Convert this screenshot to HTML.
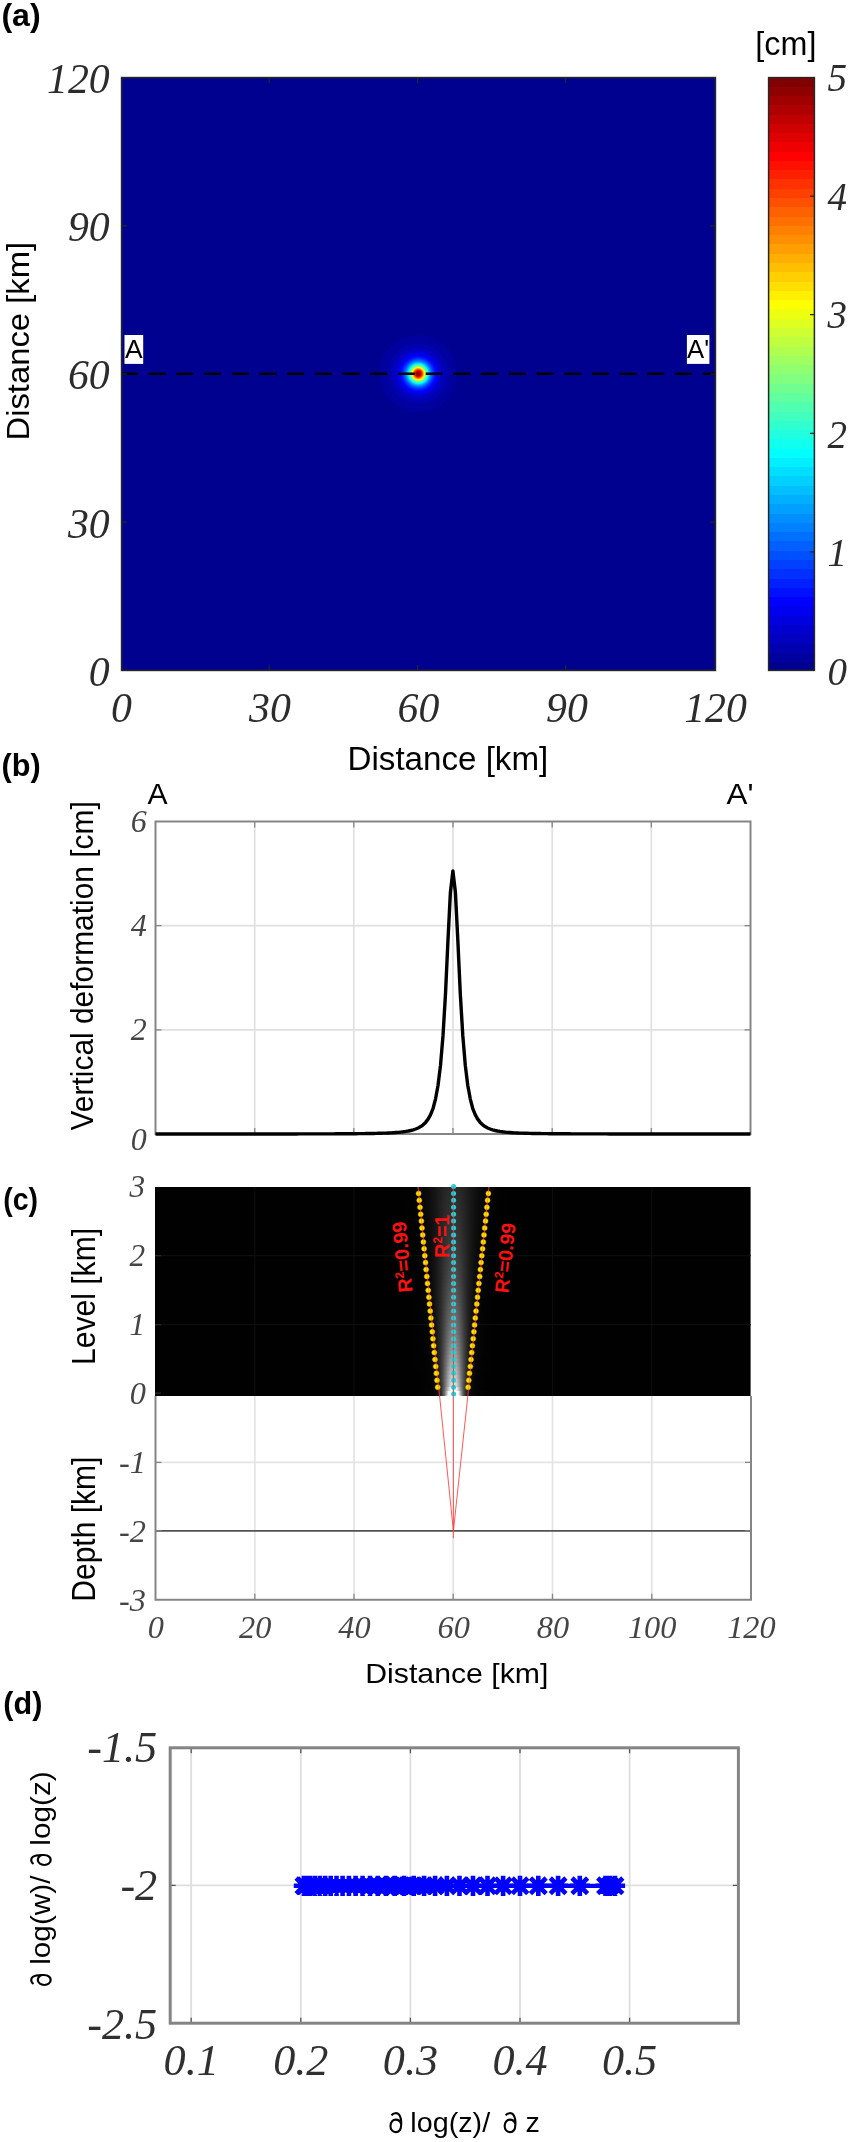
<!DOCTYPE html>
<html><head><meta charset="utf-8"><title>figure</title>
<style>html,body{margin:0;padding:0;background:#fff}svg{display:block}</style></head>
<body>
<svg width="850" height="2142" viewBox="0 0 850 2142">
<defs>
<radialGradient id="blob" gradientUnits="userSpaceOnUse" cx="418.3" cy="373.7" r="70"><stop offset="0" stop-color="#800000"/><stop offset="0.0163" stop-color="#800000"/><stop offset="0.0209" stop-color="#8f0000"/><stop offset="0.0218" stop-color="#8f0000"/><stop offset="0.0257" stop-color="#9f0000"/><stop offset="0.0263" stop-color="#9f0000"/><stop offset="0.0298" stop-color="#af0000"/><stop offset="0.0303" stop-color="#af0000"/><stop offset="0.0335" stop-color="#bf0000"/><stop offset="0.0340" stop-color="#bf0000"/><stop offset="0.0369" stop-color="#cf0000"/><stop offset="0.0373" stop-color="#cf0000"/><stop offset="0.0401" stop-color="#df0000"/><stop offset="0.0405" stop-color="#df0000"/><stop offset="0.0432" stop-color="#ef0000"/><stop offset="0.0435" stop-color="#ef0000"/><stop offset="0.0461" stop-color="#ff0000"/><stop offset="0.0464" stop-color="#ff0000"/><stop offset="0.0489" stop-color="#ff1000"/><stop offset="0.0492" stop-color="#ff1000"/><stop offset="0.0517" stop-color="#ff2000"/><stop offset="0.0520" stop-color="#ff2000"/><stop offset="0.0544" stop-color="#ff3000"/><stop offset="0.0547" stop-color="#ff3000"/><stop offset="0.0571" stop-color="#ff4000"/><stop offset="0.0573" stop-color="#ff4000"/><stop offset="0.0597" stop-color="#ff5000"/><stop offset="0.0600" stop-color="#ff5000"/><stop offset="0.0623" stop-color="#ff6000"/><stop offset="0.0625" stop-color="#ff6000"/><stop offset="0.0648" stop-color="#ff7000"/><stop offset="0.0651" stop-color="#ff7000"/><stop offset="0.0674" stop-color="#ff8000"/><stop offset="0.0677" stop-color="#ff8000"/><stop offset="0.0700" stop-color="#ff8f00"/><stop offset="0.0702" stop-color="#ff8f00"/><stop offset="0.0725" stop-color="#ff9f00"/><stop offset="0.0728" stop-color="#ff9f00"/><stop offset="0.0751" stop-color="#ffaf00"/><stop offset="0.0753" stop-color="#ffaf00"/><stop offset="0.0776" stop-color="#ffbf00"/><stop offset="0.0779" stop-color="#ffbf00"/><stop offset="0.0802" stop-color="#ffcf00"/><stop offset="0.0805" stop-color="#ffcf00"/><stop offset="0.0828" stop-color="#ffdf00"/><stop offset="0.0830" stop-color="#ffdf00"/><stop offset="0.0854" stop-color="#ffef00"/><stop offset="0.0857" stop-color="#ffef00"/><stop offset="0.0880" stop-color="#ffff00"/><stop offset="0.0883" stop-color="#ffff00"/><stop offset="0.0907" stop-color="#efff10"/><stop offset="0.0910" stop-color="#efff10"/><stop offset="0.0934" stop-color="#dfff20"/><stop offset="0.0937" stop-color="#dfff20"/><stop offset="0.0962" stop-color="#cfff30"/><stop offset="0.0965" stop-color="#cfff30"/><stop offset="0.0990" stop-color="#bfff40"/><stop offset="0.0993" stop-color="#bfff40"/><stop offset="0.1018" stop-color="#afff50"/><stop offset="0.1021" stop-color="#afff50"/><stop offset="0.1047" stop-color="#9fff60"/><stop offset="0.1050" stop-color="#9fff60"/><stop offset="0.1077" stop-color="#8fff70"/><stop offset="0.1080" stop-color="#8fff70"/><stop offset="0.1107" stop-color="#80ff80"/><stop offset="0.1111" stop-color="#80ff80"/><stop offset="0.1138" stop-color="#70ff8f"/><stop offset="0.1142" stop-color="#70ff8f"/><stop offset="0.1170" stop-color="#60ff9f"/><stop offset="0.1174" stop-color="#60ff9f"/><stop offset="0.1203" stop-color="#50ffaf"/><stop offset="0.1207" stop-color="#50ffaf"/><stop offset="0.1237" stop-color="#40ffbf"/><stop offset="0.1241" stop-color="#40ffbf"/><stop offset="0.1272" stop-color="#30ffcf"/><stop offset="0.1276" stop-color="#30ffcf"/><stop offset="0.1309" stop-color="#20ffdf"/><stop offset="0.1313" stop-color="#20ffdf"/><stop offset="0.1346" stop-color="#10ffef"/><stop offset="0.1351" stop-color="#10ffef"/><stop offset="0.1385" stop-color="#00ffff"/><stop offset="0.1390" stop-color="#00ffff"/><stop offset="0.1426" stop-color="#00efff"/><stop offset="0.1431" stop-color="#00efff"/><stop offset="0.1469" stop-color="#00dfff"/><stop offset="0.1474" stop-color="#00dfff"/><stop offset="0.1514" stop-color="#00cfff"/><stop offset="0.1519" stop-color="#00cfff"/><stop offset="0.1561" stop-color="#00bfff"/><stop offset="0.1567" stop-color="#00bfff"/><stop offset="0.1611" stop-color="#00afff"/><stop offset="0.1617" stop-color="#00afff"/><stop offset="0.1663" stop-color="#009fff"/><stop offset="0.1670" stop-color="#009fff"/><stop offset="0.1719" stop-color="#008fff"/><stop offset="0.1727" stop-color="#008fff"/><stop offset="0.1779" stop-color="#0080ff"/><stop offset="0.1788" stop-color="#0080ff"/><stop offset="0.1844" stop-color="#0070ff"/><stop offset="0.1853" stop-color="#0070ff"/><stop offset="0.1913" stop-color="#0060ff"/><stop offset="0.1923" stop-color="#0060ff"/><stop offset="0.1989" stop-color="#0050ff"/><stop offset="0.2000" stop-color="#0050ff"/><stop offset="0.2072" stop-color="#0040ff"/><stop offset="0.2085" stop-color="#0040ff"/><stop offset="0.2164" stop-color="#0030ff"/><stop offset="0.2179" stop-color="#0030ff"/><stop offset="0.2267" stop-color="#0020ff"/><stop offset="0.2284" stop-color="#0020ff"/><stop offset="0.2383" stop-color="#0010ff"/><stop offset="0.2403" stop-color="#0010ff"/><stop offset="0.2518" stop-color="#0000ff"/><stop offset="0.2542" stop-color="#0000ff"/><stop offset="0.2675" stop-color="#0000ef"/><stop offset="0.2706" stop-color="#0000ef"/><stop offset="0.2865" stop-color="#0000df"/><stop offset="0.2917" stop-color="#0000df"/><stop offset="0.3089" stop-color="#0000cf"/><stop offset="0.3198" stop-color="#0000cf"/><stop offset="0.3370" stop-color="#0000bf"/><stop offset="0.3587" stop-color="#0000bf"/><stop offset="0.3758" stop-color="#0000af"/><stop offset="0.4192" stop-color="#0000af"/><stop offset="0.4363" stop-color="#00009f"/><stop offset="0.5411" stop-color="#00009f"/><stop offset="0.5583" stop-color="#00008f"/><stop offset="1" stop-color="#00008f"/></radialGradient>
</defs>
<rect width="850" height="2142" fill="#fff"/>
<g opacity="0.999">
<rect x="121.0" y="77.0" width="595.0" height="594.0" fill="#00008f"/>
<rect x="121.0" y="77.0" width="595.0" height="594.0" fill="url(#blob)"/>
<line x1="121" y1="373.8" x2="716.0" y2="373.8" stroke="#000" stroke-width="2.4" stroke-dasharray="17 10.7"/>
<path d="M269.2 77.0v6M269.2 671.0v-6M121.0 225.8h6M716.0 225.8h-6M417.6 77.0v6M417.6 671.0v-6M121.0 374.0h6M716.0 374.0h-6M565.6 77.0v6M565.6 671.0v-6M121.0 522.2h6M716.0 522.2h-6" stroke="#262626" stroke-width="1.2" fill="none"/>
<rect x="121.6" y="77.6" width="593.8" height="592.8" fill="none" stroke="#262626" stroke-width="1.6"/>
<rect x="124.5" y="335" width="18.7" height="28.9" fill="#fff"/>
<rect x="686.9" y="335" width="22.5" height="28.9" fill="#fff"/>
<g opacity="0.999">
<text transform="translate(125.00,357.90) scale(1.0136,1)" font-family='"Liberation Sans", sans-serif' font-weight="normal" font-style="normal" font-size="26.11" fill="#000">A</text>
<text transform="translate(687.10,357.70) scale(0.9848,1)" font-family='"Liberation Sans", sans-serif' font-weight="normal" font-style="normal" font-size="26.11" fill="#000">A'</text>
</g>
<text transform="translate(1.39,25.80) scale(1.0209,1)" font-family='"Liberation Sans", sans-serif' font-weight="bold" font-style="normal" font-size="31.52" fill="#000">(a)</text>
<text x="109.70" y="92.80" text-anchor="end" font-family='"Liberation Serif", serif' font-style="italic" font-size="41.8" fill="#2c2c2c">120</text>
<text x="109.70" y="241.05" text-anchor="end" font-family='"Liberation Serif", serif' font-style="italic" font-size="41.8" fill="#2c2c2c">90</text>
<text x="109.70" y="389.30" text-anchor="end" font-family='"Liberation Serif", serif' font-style="italic" font-size="41.8" fill="#2c2c2c">60</text>
<text x="109.70" y="537.55" text-anchor="end" font-family='"Liberation Serif", serif' font-style="italic" font-size="41.8" fill="#2c2c2c">30</text>
<text x="109.70" y="685.80" text-anchor="end" font-family='"Liberation Serif", serif' font-style="italic" font-size="41.8" fill="#2c2c2c">0</text>
<text x="121.50" y="722.20" text-anchor="middle" font-family='"Liberation Serif", serif' font-style="italic" font-size="41.8" fill="#2c2c2c">0</text>
<text x="270.00" y="722.20" text-anchor="middle" font-family='"Liberation Serif", serif' font-style="italic" font-size="41.8" fill="#2c2c2c">30</text>
<text x="418.50" y="722.20" text-anchor="middle" font-family='"Liberation Serif", serif' font-style="italic" font-size="41.8" fill="#2c2c2c">60</text>
<text x="567.00" y="722.20" text-anchor="middle" font-family='"Liberation Serif", serif' font-style="italic" font-size="41.8" fill="#2c2c2c">90</text>
<text x="715.50" y="722.20" text-anchor="middle" font-family='"Liberation Serif", serif' font-style="italic" font-size="41.8" fill="#2c2c2c">120</text>
<text transform="translate(28.70,440.52) rotate(-90) scale(1.0436,1)" font-family='"Liberation Sans", sans-serif' font-weight="normal" font-style="normal" font-size="31.42" fill="#000">Distance [km]</text>
<text transform="translate(347.55,770.30) scale(0.9821,1)" font-family='"Liberation Sans", sans-serif' font-weight="normal" font-style="normal" font-size="33.76" fill="#000">Distance [km]</text>
<text transform="translate(755.34,55.30) scale(0.9602,1)" font-family='"Liberation Sans", sans-serif' font-weight="normal" font-style="normal" font-size="33.66" fill="#000">[cm]</text>
<rect x="768.0" y="661.72" width="47.0" height="9.68" fill="#00008f" shape-rendering="crispEdges"/>
<rect x="768.0" y="652.44" width="47.0" height="9.68" fill="#00009f" shape-rendering="crispEdges"/>
<rect x="768.0" y="643.16" width="47.0" height="9.68" fill="#0000af" shape-rendering="crispEdges"/>
<rect x="768.0" y="633.88" width="47.0" height="9.68" fill="#0000bf" shape-rendering="crispEdges"/>
<rect x="768.0" y="624.59" width="47.0" height="9.68" fill="#0000cf" shape-rendering="crispEdges"/>
<rect x="768.0" y="615.31" width="47.0" height="9.68" fill="#0000df" shape-rendering="crispEdges"/>
<rect x="768.0" y="606.03" width="47.0" height="9.68" fill="#0000ef" shape-rendering="crispEdges"/>
<rect x="768.0" y="596.75" width="47.0" height="9.68" fill="#0000ff" shape-rendering="crispEdges"/>
<rect x="768.0" y="587.47" width="47.0" height="9.68" fill="#0010ff" shape-rendering="crispEdges"/>
<rect x="768.0" y="578.19" width="47.0" height="9.68" fill="#0020ff" shape-rendering="crispEdges"/>
<rect x="768.0" y="568.91" width="47.0" height="9.68" fill="#0030ff" shape-rendering="crispEdges"/>
<rect x="768.0" y="559.62" width="47.0" height="9.68" fill="#0040ff" shape-rendering="crispEdges"/>
<rect x="768.0" y="550.34" width="47.0" height="9.68" fill="#0050ff" shape-rendering="crispEdges"/>
<rect x="768.0" y="541.06" width="47.0" height="9.68" fill="#0060ff" shape-rendering="crispEdges"/>
<rect x="768.0" y="531.78" width="47.0" height="9.68" fill="#0070ff" shape-rendering="crispEdges"/>
<rect x="768.0" y="522.50" width="47.0" height="9.68" fill="#0080ff" shape-rendering="crispEdges"/>
<rect x="768.0" y="513.22" width="47.0" height="9.68" fill="#008fff" shape-rendering="crispEdges"/>
<rect x="768.0" y="503.94" width="47.0" height="9.68" fill="#009fff" shape-rendering="crispEdges"/>
<rect x="768.0" y="494.66" width="47.0" height="9.68" fill="#00afff" shape-rendering="crispEdges"/>
<rect x="768.0" y="485.38" width="47.0" height="9.68" fill="#00bfff" shape-rendering="crispEdges"/>
<rect x="768.0" y="476.09" width="47.0" height="9.68" fill="#00cfff" shape-rendering="crispEdges"/>
<rect x="768.0" y="466.81" width="47.0" height="9.68" fill="#00dfff" shape-rendering="crispEdges"/>
<rect x="768.0" y="457.53" width="47.0" height="9.68" fill="#00efff" shape-rendering="crispEdges"/>
<rect x="768.0" y="448.25" width="47.0" height="9.68" fill="#00ffff" shape-rendering="crispEdges"/>
<rect x="768.0" y="438.97" width="47.0" height="9.68" fill="#10ffef" shape-rendering="crispEdges"/>
<rect x="768.0" y="429.69" width="47.0" height="9.68" fill="#20ffdf" shape-rendering="crispEdges"/>
<rect x="768.0" y="420.41" width="47.0" height="9.68" fill="#30ffcf" shape-rendering="crispEdges"/>
<rect x="768.0" y="411.12" width="47.0" height="9.68" fill="#40ffbf" shape-rendering="crispEdges"/>
<rect x="768.0" y="401.84" width="47.0" height="9.68" fill="#50ffaf" shape-rendering="crispEdges"/>
<rect x="768.0" y="392.56" width="47.0" height="9.68" fill="#60ff9f" shape-rendering="crispEdges"/>
<rect x="768.0" y="383.28" width="47.0" height="9.68" fill="#70ff8f" shape-rendering="crispEdges"/>
<rect x="768.0" y="374.00" width="47.0" height="9.68" fill="#80ff80" shape-rendering="crispEdges"/>
<rect x="768.0" y="364.72" width="47.0" height="9.68" fill="#8fff70" shape-rendering="crispEdges"/>
<rect x="768.0" y="355.44" width="47.0" height="9.68" fill="#9fff60" shape-rendering="crispEdges"/>
<rect x="768.0" y="346.16" width="47.0" height="9.68" fill="#afff50" shape-rendering="crispEdges"/>
<rect x="768.0" y="336.88" width="47.0" height="9.68" fill="#bfff40" shape-rendering="crispEdges"/>
<rect x="768.0" y="327.59" width="47.0" height="9.68" fill="#cfff30" shape-rendering="crispEdges"/>
<rect x="768.0" y="318.31" width="47.0" height="9.68" fill="#dfff20" shape-rendering="crispEdges"/>
<rect x="768.0" y="309.03" width="47.0" height="9.68" fill="#efff10" shape-rendering="crispEdges"/>
<rect x="768.0" y="299.75" width="47.0" height="9.68" fill="#ffff00" shape-rendering="crispEdges"/>
<rect x="768.0" y="290.47" width="47.0" height="9.68" fill="#ffef00" shape-rendering="crispEdges"/>
<rect x="768.0" y="281.19" width="47.0" height="9.68" fill="#ffdf00" shape-rendering="crispEdges"/>
<rect x="768.0" y="271.91" width="47.0" height="9.68" fill="#ffcf00" shape-rendering="crispEdges"/>
<rect x="768.0" y="262.62" width="47.0" height="9.68" fill="#ffbf00" shape-rendering="crispEdges"/>
<rect x="768.0" y="253.34" width="47.0" height="9.68" fill="#ffaf00" shape-rendering="crispEdges"/>
<rect x="768.0" y="244.06" width="47.0" height="9.68" fill="#ff9f00" shape-rendering="crispEdges"/>
<rect x="768.0" y="234.78" width="47.0" height="9.68" fill="#ff8f00" shape-rendering="crispEdges"/>
<rect x="768.0" y="225.50" width="47.0" height="9.68" fill="#ff8000" shape-rendering="crispEdges"/>
<rect x="768.0" y="216.22" width="47.0" height="9.68" fill="#ff7000" shape-rendering="crispEdges"/>
<rect x="768.0" y="206.94" width="47.0" height="9.68" fill="#ff6000" shape-rendering="crispEdges"/>
<rect x="768.0" y="197.66" width="47.0" height="9.68" fill="#ff5000" shape-rendering="crispEdges"/>
<rect x="768.0" y="188.38" width="47.0" height="9.68" fill="#ff4000" shape-rendering="crispEdges"/>
<rect x="768.0" y="179.09" width="47.0" height="9.68" fill="#ff3000" shape-rendering="crispEdges"/>
<rect x="768.0" y="169.81" width="47.0" height="9.68" fill="#ff2000" shape-rendering="crispEdges"/>
<rect x="768.0" y="160.53" width="47.0" height="9.68" fill="#ff1000" shape-rendering="crispEdges"/>
<rect x="768.0" y="151.25" width="47.0" height="9.68" fill="#ff0000" shape-rendering="crispEdges"/>
<rect x="768.0" y="141.97" width="47.0" height="9.68" fill="#ef0000" shape-rendering="crispEdges"/>
<rect x="768.0" y="132.69" width="47.0" height="9.68" fill="#df0000" shape-rendering="crispEdges"/>
<rect x="768.0" y="123.41" width="47.0" height="9.68" fill="#cf0000" shape-rendering="crispEdges"/>
<rect x="768.0" y="114.12" width="47.0" height="9.68" fill="#bf0000" shape-rendering="crispEdges"/>
<rect x="768.0" y="104.84" width="47.0" height="9.68" fill="#af0000" shape-rendering="crispEdges"/>
<rect x="768.0" y="95.56" width="47.0" height="9.68" fill="#9f0000" shape-rendering="crispEdges"/>
<rect x="768.0" y="86.28" width="47.0" height="9.68" fill="#8f0000" shape-rendering="crispEdges"/>
<rect x="768.0" y="77.00" width="47.0" height="9.68" fill="#800000" shape-rendering="crispEdges"/>
<path d="M815.0 196.1h-5M815.0 314.7h-5M815.0 433.3h-5M815.0 551.9h-5" stroke="#262626" stroke-width="1.2" fill="none"/>
<rect x="768.6" y="77.6" width="45.8" height="592.8" fill="none" stroke="#262626" stroke-width="1.5"/>
<text x="827.60" y="90.70" text-anchor="start" font-family='"Liberation Serif", serif' font-style="italic" font-size="39.0" fill="#2c2c2c">5</text>
<text x="827.60" y="210.40" text-anchor="start" font-family='"Liberation Serif", serif' font-style="italic" font-size="39.0" fill="#2c2c2c">4</text>
<text x="827.60" y="328.30" text-anchor="start" font-family='"Liberation Serif", serif' font-style="italic" font-size="39.0" fill="#2c2c2c">3</text>
<text x="827.60" y="448.10" text-anchor="start" font-family='"Liberation Serif", serif' font-style="italic" font-size="39.0" fill="#2c2c2c">2</text>
<text x="827.60" y="565.50" text-anchor="start" font-family='"Liberation Serif", serif' font-style="italic" font-size="39.0" fill="#2c2c2c">1</text>
<text x="827.60" y="685.30" text-anchor="start" font-family='"Liberation Serif", serif' font-style="italic" font-size="39.0" fill="#2c2c2c">0</text>
<path d="M254.7 821.5V1134.0M353.8 821.5V1134.0M453.0 821.5V1134.0M552.2 821.5V1134.0M651.3 821.5V1134.0M155.5 925.7H750.5M155.5 1029.8H750.5" stroke="#e0e0e0" stroke-width="1.7" fill="none"/>
<path d="M254.7 821.5v6M254.7 1134.0v-6M353.8 821.5v6M353.8 1134.0v-6M453.0 821.5v6M453.0 1134.0v-6M552.2 821.5v6M552.2 1134.0v-6M651.3 821.5v6M651.3 1134.0v-6M155.5 925.7h6M750.5 925.7h-6M155.5 1029.8h6M750.5 1029.8h-6" stroke="#858585" stroke-width="1.3" fill="none"/>
<rect x="155.5" y="821.5" width="595.0" height="312.5" fill="none" stroke="#858585" stroke-width="2"/>
<polyline points="155.5,1133.99 157.8,1133.99 160.3,1133.99 162.7,1133.99 165.2,1133.99 167.7,1133.99 170.2,1133.99 172.7,1133.99 175.1,1133.99 177.6,1133.99 180.1,1133.99 182.6,1133.99 185.1,1133.99 187.5,1133.98 190.0,1133.98 192.5,1133.98 195.0,1133.98 197.5,1133.98 199.9,1133.98 202.4,1133.98 204.9,1133.98 207.4,1133.98 209.9,1133.98 212.3,1133.98 214.8,1133.98 217.3,1133.98 219.8,1133.98 222.3,1133.98 224.7,1133.98 227.2,1133.98 229.7,1133.97 232.2,1133.97 234.7,1133.97 237.1,1133.97 239.6,1133.97 242.1,1133.97 244.6,1133.97 247.1,1133.97 249.5,1133.97 252.0,1133.96 254.5,1133.96 257.0,1133.96 259.5,1133.96 261.9,1133.96 264.4,1133.96 266.9,1133.96 269.4,1133.95 271.9,1133.95 274.3,1133.95 276.8,1133.95 279.3,1133.95 281.8,1133.94 284.3,1133.94 286.7,1133.94 289.2,1133.93 291.7,1133.93 294.2,1133.93 296.7,1133.93 299.1,1133.92 301.6,1133.92 304.1,1133.91 306.6,1133.91 309.1,1133.90 311.5,1133.90 314.0,1133.89 316.5,1133.89 319.0,1133.88 321.5,1133.87 323.9,1133.87 326.4,1133.86 328.9,1133.85 331.4,1133.84 333.9,1133.83 336.3,1133.82 338.8,1133.81 341.3,1133.80 343.8,1133.78 346.3,1133.77 348.7,1133.75 351.2,1133.73 353.7,1133.71 356.2,1133.69 358.7,1133.66 361.1,1133.63 363.6,1133.60 366.1,1133.57 368.6,1133.53 371.1,1133.49 373.5,1133.44 376.0,1133.38 378.5,1133.32 381.0,1133.25 383.5,1133.17 385.9,1133.08 388.4,1132.97 390.9,1132.84 393.4,1132.70 395.9,1132.52 398.3,1132.32 400.8,1132.08 403.3,1131.79 405.8,1131.44 408.3,1131.01 410.7,1130.48 413.2,1129.83 415.7,1129.00 418.2,1127.95 420.7,1126.59 423.1,1124.80 425.6,1122.41 428.1,1119.16 430.6,1114.65 433.1,1108.27 435.5,1099.06 438.0,1085.51 440.5,1065.39 443.0,1035.72 445.5,993.89 447.9,941.63 450.4,892.30 452.9,870.98 455.4,892.30 457.9,941.63 460.3,993.89 462.8,1035.72 465.3,1065.39 467.8,1085.51 470.3,1099.06 472.7,1108.27 475.2,1114.65 477.7,1119.16 480.2,1122.41 482.7,1124.80 485.1,1126.59 487.6,1127.95 490.1,1129.00 492.6,1129.83 495.1,1130.48 497.5,1131.01 500.0,1131.44 502.5,1131.79 505.0,1132.08 507.5,1132.32 509.9,1132.52 512.4,1132.70 514.9,1132.84 517.4,1132.97 519.9,1133.08 522.3,1133.17 524.8,1133.25 527.3,1133.32 529.8,1133.38 532.3,1133.44 534.7,1133.49 537.2,1133.53 539.7,1133.57 542.2,1133.60 544.7,1133.63 547.1,1133.66 549.6,1133.69 552.1,1133.71 554.6,1133.73 557.1,1133.75 559.5,1133.77 562.0,1133.78 564.5,1133.80 567.0,1133.81 569.5,1133.82 571.9,1133.83 574.4,1133.84 576.9,1133.85 579.4,1133.86 581.9,1133.87 584.3,1133.87 586.8,1133.88 589.3,1133.89 591.8,1133.89 594.3,1133.90 596.7,1133.90 599.2,1133.91 601.7,1133.91 604.2,1133.92 606.7,1133.92 609.1,1133.93 611.6,1133.93 614.1,1133.93 616.6,1133.93 619.1,1133.94 621.5,1133.94 624.0,1133.94 626.5,1133.95 629.0,1133.95 631.5,1133.95 633.9,1133.95 636.4,1133.95 638.9,1133.96 641.4,1133.96 643.9,1133.96 646.3,1133.96 648.8,1133.96 651.3,1133.96 653.8,1133.96 656.3,1133.97 658.7,1133.97 661.2,1133.97 663.7,1133.97 666.2,1133.97 668.7,1133.97 671.1,1133.97 673.6,1133.97 676.1,1133.97 678.6,1133.98 681.1,1133.98 683.5,1133.98 686.0,1133.98 688.5,1133.98 691.0,1133.98 693.5,1133.98 695.9,1133.98 698.4,1133.98 700.9,1133.98 703.4,1133.98 705.9,1133.98 708.3,1133.98 710.8,1133.98 713.3,1133.98 715.8,1133.98 718.3,1133.98 720.7,1133.99 723.2,1133.99 725.7,1133.99 728.2,1133.99 730.7,1133.99 733.1,1133.99 735.6,1133.99 738.1,1133.99 740.6,1133.99 743.1,1133.99 745.5,1133.99 748.0,1133.99 750.5,1133.99 750.5,1133.99" fill="none" stroke="#000" stroke-width="3.4" stroke-linejoin="round" stroke-linecap="butt"/>
<text transform="translate(1.47,776.00) scale(0.9733,1)" font-family='"Liberation Sans", sans-serif' font-weight="bold" font-style="normal" font-size="31.52" fill="#000">(b)</text>
<text transform="translate(147.50,803.80) scale(0.9995,1)" font-family='"Liberation Sans", sans-serif' font-weight="normal" font-style="normal" font-size="30.09" fill="#000">A</text>
<text transform="translate(726.50,804.10) scale(1.0445,1)" font-family='"Liberation Sans", sans-serif' font-weight="normal" font-style="normal" font-size="30.09" fill="#000">A'</text>
<text x="146.80" y="831.80" text-anchor="end" font-family='"Liberation Serif", serif' font-style="italic" font-size="32.0" fill="#454545">6</text>
<text x="146.80" y="935.97" text-anchor="end" font-family='"Liberation Serif", serif' font-style="italic" font-size="32.0" fill="#454545">4</text>
<text x="146.80" y="1040.13" text-anchor="end" font-family='"Liberation Serif", serif' font-style="italic" font-size="32.0" fill="#454545">2</text>
<text x="146.80" y="1150.00" text-anchor="end" font-family='"Liberation Serif", serif' font-style="italic" font-size="32.0" fill="#454545">0</text>
<text transform="translate(93.40,1130.45) rotate(-90) scale(0.9372,1)" font-family='"Liberation Sans", sans-serif' font-weight="normal" font-style="normal" font-size="31.93" fill="#000">Vertical deformation [cm]</text>
<rect x="155.0" y="1187.0" width="595.6" height="209.0" fill="#000"/>
<rect x="383.4" y="1187" width="140" height="4" fill="url(#g0)" shape-rendering="crispEdges"/>
<rect x="383.4" y="1191" width="140" height="4" fill="url(#g1)" shape-rendering="crispEdges"/>
<rect x="383.4" y="1195" width="140" height="4" fill="url(#g2)" shape-rendering="crispEdges"/>
<rect x="383.4" y="1199" width="140" height="4" fill="url(#g3)" shape-rendering="crispEdges"/>
<rect x="383.4" y="1203" width="140" height="4" fill="url(#g4)" shape-rendering="crispEdges"/>
<rect x="383.4" y="1207" width="140" height="4" fill="url(#g5)" shape-rendering="crispEdges"/>
<rect x="383.4" y="1211" width="140" height="4" fill="url(#g6)" shape-rendering="crispEdges"/>
<rect x="383.4" y="1215" width="140" height="4" fill="url(#g7)" shape-rendering="crispEdges"/>
<rect x="383.4" y="1219" width="140" height="4" fill="url(#g8)" shape-rendering="crispEdges"/>
<rect x="383.4" y="1223" width="140" height="4" fill="url(#g9)" shape-rendering="crispEdges"/>
<rect x="383.4" y="1227" width="140" height="4" fill="url(#g10)" shape-rendering="crispEdges"/>
<rect x="383.4" y="1231" width="140" height="4" fill="url(#g11)" shape-rendering="crispEdges"/>
<rect x="383.4" y="1235" width="140" height="4" fill="url(#g12)" shape-rendering="crispEdges"/>
<rect x="383.4" y="1239" width="140" height="4" fill="url(#g13)" shape-rendering="crispEdges"/>
<rect x="383.4" y="1243" width="140" height="4" fill="url(#g14)" shape-rendering="crispEdges"/>
<rect x="383.4" y="1247" width="140" height="4" fill="url(#g15)" shape-rendering="crispEdges"/>
<rect x="383.4" y="1251" width="140" height="4" fill="url(#g16)" shape-rendering="crispEdges"/>
<rect x="383.4" y="1255" width="140" height="4" fill="url(#g17)" shape-rendering="crispEdges"/>
<rect x="383.4" y="1259" width="140" height="4" fill="url(#g18)" shape-rendering="crispEdges"/>
<rect x="383.4" y="1263" width="140" height="4" fill="url(#g19)" shape-rendering="crispEdges"/>
<rect x="383.4" y="1267" width="140" height="4" fill="url(#g20)" shape-rendering="crispEdges"/>
<rect x="383.4" y="1271" width="140" height="4" fill="url(#g21)" shape-rendering="crispEdges"/>
<rect x="383.4" y="1275" width="140" height="4" fill="url(#g22)" shape-rendering="crispEdges"/>
<rect x="383.4" y="1279" width="140" height="4" fill="url(#g23)" shape-rendering="crispEdges"/>
<rect x="383.4" y="1283" width="140" height="4" fill="url(#g24)" shape-rendering="crispEdges"/>
<rect x="383.4" y="1287" width="140" height="4" fill="url(#g25)" shape-rendering="crispEdges"/>
<rect x="383.4" y="1291" width="140" height="4" fill="url(#g26)" shape-rendering="crispEdges"/>
<rect x="383.4" y="1295" width="140" height="4" fill="url(#g27)" shape-rendering="crispEdges"/>
<rect x="383.4" y="1299" width="140" height="4" fill="url(#g28)" shape-rendering="crispEdges"/>
<rect x="383.4" y="1303" width="140" height="4" fill="url(#g29)" shape-rendering="crispEdges"/>
<rect x="383.4" y="1307" width="140" height="4" fill="url(#g30)" shape-rendering="crispEdges"/>
<rect x="383.4" y="1311" width="140" height="4" fill="url(#g31)" shape-rendering="crispEdges"/>
<rect x="383.4" y="1315" width="140" height="4" fill="url(#g32)" shape-rendering="crispEdges"/>
<rect x="383.4" y="1319" width="140" height="4" fill="url(#g33)" shape-rendering="crispEdges"/>
<rect x="383.4" y="1323" width="140" height="4" fill="url(#g34)" shape-rendering="crispEdges"/>
<rect x="383.4" y="1327" width="140" height="4" fill="url(#g35)" shape-rendering="crispEdges"/>
<rect x="383.4" y="1331" width="140" height="4" fill="url(#g36)" shape-rendering="crispEdges"/>
<rect x="383.4" y="1335" width="140" height="4" fill="url(#g37)" shape-rendering="crispEdges"/>
<rect x="383.4" y="1339" width="140" height="4" fill="url(#g38)" shape-rendering="crispEdges"/>
<rect x="383.4" y="1343" width="140" height="4" fill="url(#g39)" shape-rendering="crispEdges"/>
<rect x="383.4" y="1347" width="140" height="4" fill="url(#g40)" shape-rendering="crispEdges"/>
<rect x="383.4" y="1351" width="140" height="4" fill="url(#g41)" shape-rendering="crispEdges"/>
<rect x="383.4" y="1355" width="140" height="4" fill="url(#g42)" shape-rendering="crispEdges"/>
<rect x="383.4" y="1359" width="140" height="4" fill="url(#g43)" shape-rendering="crispEdges"/>
<rect x="383.4" y="1363" width="140" height="4" fill="url(#g44)" shape-rendering="crispEdges"/>
<rect x="383.4" y="1367" width="140" height="4" fill="url(#g45)" shape-rendering="crispEdges"/>
<rect x="383.4" y="1371" width="140" height="4" fill="url(#g46)" shape-rendering="crispEdges"/>
<rect x="383.4" y="1375" width="140" height="4" fill="url(#g47)" shape-rendering="crispEdges"/>
<rect x="383.4" y="1379" width="140" height="4" fill="url(#g48)" shape-rendering="crispEdges"/>
<rect x="383.4" y="1383" width="140" height="4" fill="url(#g49)" shape-rendering="crispEdges"/>
<rect x="383.4" y="1387" width="140" height="4" fill="url(#g50)" shape-rendering="crispEdges"/>
<rect x="383.4" y="1391" width="140" height="4" fill="url(#g51)" shape-rendering="crispEdges"/>
<rect x="383.4" y="1395" width="140" height="1" fill="url(#g52)" shape-rendering="crispEdges"/>
<defs><linearGradient id="g0" gradientUnits="userSpaceOnUse" x1="383.4" x2="523.4" y1="0" y2="0"><stop offset="0.0000" stop-color="#010101"/><stop offset="0.1071" stop-color="#010101"/><stop offset="0.2000" stop-color="#030303"/><stop offset="0.2500" stop-color="#050505"/><stop offset="0.2857" stop-color="#080808"/><stop offset="0.3143" stop-color="#0c0c0c"/><stop offset="0.3357" stop-color="#0f0f0f"/><stop offset="0.3571" stop-color="#131313"/><stop offset="0.3714" stop-color="#161616"/><stop offset="0.3857" stop-color="#1a1a1a"/><stop offset="0.4000" stop-color="#1d1d1d"/><stop offset="0.4143" stop-color="#202020"/><stop offset="0.4250" stop-color="#222222"/><stop offset="0.4357" stop-color="#252525"/><stop offset="0.4464" stop-color="#262626"/><stop offset="0.4571" stop-color="#282828"/><stop offset="0.4679" stop-color="#2a2a2a"/><stop offset="0.4786" stop-color="#2b2b2b"/><stop offset="0.4893" stop-color="#2b2b2b"/><stop offset="0.5000" stop-color="#2b2b2b"/><stop offset="0.5107" stop-color="#2b2b2b"/><stop offset="0.5214" stop-color="#2b2b2b"/><stop offset="0.5321" stop-color="#2a2a2a"/><stop offset="0.5429" stop-color="#282828"/><stop offset="0.5536" stop-color="#262626"/><stop offset="0.5643" stop-color="#252525"/><stop offset="0.5750" stop-color="#222222"/><stop offset="0.5857" stop-color="#202020"/><stop offset="0.6000" stop-color="#1d1d1d"/><stop offset="0.6143" stop-color="#1a1a1a"/><stop offset="0.6286" stop-color="#161616"/><stop offset="0.6429" stop-color="#131313"/><stop offset="0.6643" stop-color="#0f0f0f"/><stop offset="0.6857" stop-color="#0c0c0c"/><stop offset="0.7143" stop-color="#080808"/><stop offset="0.7500" stop-color="#050505"/><stop offset="0.8000" stop-color="#030303"/><stop offset="0.8929" stop-color="#010101"/><stop offset="1.0000" stop-color="#010101"/></linearGradient><linearGradient id="g1" gradientUnits="userSpaceOnUse" x1="383.4" x2="523.4" y1="0" y2="0"><stop offset="0.0000" stop-color="#010101"/><stop offset="0.1071" stop-color="#010101"/><stop offset="0.2000" stop-color="#030303"/><stop offset="0.2500" stop-color="#050505"/><stop offset="0.2857" stop-color="#080808"/><stop offset="0.3143" stop-color="#0b0b0b"/><stop offset="0.3357" stop-color="#0f0f0f"/><stop offset="0.3571" stop-color="#131313"/><stop offset="0.3714" stop-color="#161616"/><stop offset="0.3857" stop-color="#1a1a1a"/><stop offset="0.4000" stop-color="#1d1d1d"/><stop offset="0.4143" stop-color="#202020"/><stop offset="0.4250" stop-color="#232323"/><stop offset="0.4357" stop-color="#252525"/><stop offset="0.4464" stop-color="#272727"/><stop offset="0.4571" stop-color="#292929"/><stop offset="0.4679" stop-color="#2a2a2a"/><stop offset="0.4786" stop-color="#2b2b2b"/><stop offset="0.4893" stop-color="#2c2c2c"/><stop offset="0.5000" stop-color="#2c2c2c"/><stop offset="0.5107" stop-color="#2c2c2c"/><stop offset="0.5214" stop-color="#2b2b2b"/><stop offset="0.5321" stop-color="#2a2a2a"/><stop offset="0.5429" stop-color="#292929"/><stop offset="0.5536" stop-color="#272727"/><stop offset="0.5643" stop-color="#252525"/><stop offset="0.5750" stop-color="#232323"/><stop offset="0.5857" stop-color="#202020"/><stop offset="0.6000" stop-color="#1d1d1d"/><stop offset="0.6143" stop-color="#1a1a1a"/><stop offset="0.6286" stop-color="#161616"/><stop offset="0.6429" stop-color="#131313"/><stop offset="0.6643" stop-color="#0f0f0f"/><stop offset="0.6857" stop-color="#0b0b0b"/><stop offset="0.7143" stop-color="#080808"/><stop offset="0.7500" stop-color="#050505"/><stop offset="0.8000" stop-color="#030303"/><stop offset="0.8929" stop-color="#010101"/><stop offset="1.0000" stop-color="#010101"/></linearGradient><linearGradient id="g2" gradientUnits="userSpaceOnUse" x1="383.4" x2="523.4" y1="0" y2="0"><stop offset="0.0000" stop-color="#010101"/><stop offset="0.1071" stop-color="#010101"/><stop offset="0.2000" stop-color="#030303"/><stop offset="0.2500" stop-color="#050505"/><stop offset="0.2857" stop-color="#080808"/><stop offset="0.3143" stop-color="#0b0b0b"/><stop offset="0.3357" stop-color="#0f0f0f"/><stop offset="0.3571" stop-color="#131313"/><stop offset="0.3714" stop-color="#161616"/><stop offset="0.3857" stop-color="#1a1a1a"/><stop offset="0.4000" stop-color="#1d1d1d"/><stop offset="0.4143" stop-color="#212121"/><stop offset="0.4250" stop-color="#232323"/><stop offset="0.4357" stop-color="#262626"/><stop offset="0.4464" stop-color="#282828"/><stop offset="0.4571" stop-color="#2a2a2a"/><stop offset="0.4679" stop-color="#2b2b2b"/><stop offset="0.4786" stop-color="#2c2c2c"/><stop offset="0.4893" stop-color="#2d2d2d"/><stop offset="0.5000" stop-color="#2d2d2d"/><stop offset="0.5107" stop-color="#2d2d2d"/><stop offset="0.5214" stop-color="#2c2c2c"/><stop offset="0.5321" stop-color="#2b2b2b"/><stop offset="0.5429" stop-color="#2a2a2a"/><stop offset="0.5536" stop-color="#282828"/><stop offset="0.5643" stop-color="#262626"/><stop offset="0.5750" stop-color="#232323"/><stop offset="0.5857" stop-color="#212121"/><stop offset="0.6000" stop-color="#1d1d1d"/><stop offset="0.6143" stop-color="#1a1a1a"/><stop offset="0.6286" stop-color="#161616"/><stop offset="0.6429" stop-color="#131313"/><stop offset="0.6643" stop-color="#0f0f0f"/><stop offset="0.6857" stop-color="#0b0b0b"/><stop offset="0.7143" stop-color="#080808"/><stop offset="0.7500" stop-color="#050505"/><stop offset="0.8000" stop-color="#030303"/><stop offset="0.8929" stop-color="#010101"/><stop offset="1.0000" stop-color="#010101"/></linearGradient><linearGradient id="g3" gradientUnits="userSpaceOnUse" x1="383.4" x2="523.4" y1="0" y2="0"><stop offset="0.0000" stop-color="#010101"/><stop offset="0.1071" stop-color="#010101"/><stop offset="0.2000" stop-color="#020202"/><stop offset="0.2500" stop-color="#040404"/><stop offset="0.2857" stop-color="#070707"/><stop offset="0.3143" stop-color="#0b0b0b"/><stop offset="0.3357" stop-color="#0f0f0f"/><stop offset="0.3571" stop-color="#131313"/><stop offset="0.3714" stop-color="#161616"/><stop offset="0.3857" stop-color="#1a1a1a"/><stop offset="0.4000" stop-color="#1e1e1e"/><stop offset="0.4143" stop-color="#212121"/><stop offset="0.4250" stop-color="#242424"/><stop offset="0.4357" stop-color="#262626"/><stop offset="0.4464" stop-color="#292929"/><stop offset="0.4571" stop-color="#2b2b2b"/><stop offset="0.4679" stop-color="#2c2c2c"/><stop offset="0.4786" stop-color="#2e2e2e"/><stop offset="0.4893" stop-color="#2e2e2e"/><stop offset="0.5000" stop-color="#2f2f2f"/><stop offset="0.5107" stop-color="#2e2e2e"/><stop offset="0.5214" stop-color="#2e2e2e"/><stop offset="0.5321" stop-color="#2c2c2c"/><stop offset="0.5429" stop-color="#2b2b2b"/><stop offset="0.5536" stop-color="#292929"/><stop offset="0.5643" stop-color="#262626"/><stop offset="0.5750" stop-color="#242424"/><stop offset="0.5857" stop-color="#212121"/><stop offset="0.6000" stop-color="#1e1e1e"/><stop offset="0.6143" stop-color="#1a1a1a"/><stop offset="0.6286" stop-color="#161616"/><stop offset="0.6429" stop-color="#131313"/><stop offset="0.6643" stop-color="#0f0f0f"/><stop offset="0.6857" stop-color="#0b0b0b"/><stop offset="0.7143" stop-color="#070707"/><stop offset="0.7500" stop-color="#040404"/><stop offset="0.8000" stop-color="#020202"/><stop offset="0.8929" stop-color="#010101"/><stop offset="1.0000" stop-color="#010101"/></linearGradient><linearGradient id="g4" gradientUnits="userSpaceOnUse" x1="383.4" x2="523.4" y1="0" y2="0"><stop offset="0.0000" stop-color="#010101"/><stop offset="0.1071" stop-color="#010101"/><stop offset="0.2000" stop-color="#020202"/><stop offset="0.2500" stop-color="#040404"/><stop offset="0.2857" stop-color="#070707"/><stop offset="0.3143" stop-color="#0b0b0b"/><stop offset="0.3357" stop-color="#0e0e0e"/><stop offset="0.3571" stop-color="#131313"/><stop offset="0.3714" stop-color="#161616"/><stop offset="0.3857" stop-color="#1a1a1a"/><stop offset="0.4000" stop-color="#1e1e1e"/><stop offset="0.4143" stop-color="#222222"/><stop offset="0.4250" stop-color="#252525"/><stop offset="0.4357" stop-color="#272727"/><stop offset="0.4464" stop-color="#2a2a2a"/><stop offset="0.4571" stop-color="#2c2c2c"/><stop offset="0.4679" stop-color="#2d2d2d"/><stop offset="0.4786" stop-color="#2f2f2f"/><stop offset="0.4893" stop-color="#2f2f2f"/><stop offset="0.5000" stop-color="#303030"/><stop offset="0.5107" stop-color="#2f2f2f"/><stop offset="0.5214" stop-color="#2f2f2f"/><stop offset="0.5321" stop-color="#2d2d2d"/><stop offset="0.5429" stop-color="#2c2c2c"/><stop offset="0.5536" stop-color="#2a2a2a"/><stop offset="0.5643" stop-color="#272727"/><stop offset="0.5750" stop-color="#252525"/><stop offset="0.5857" stop-color="#222222"/><stop offset="0.6000" stop-color="#1e1e1e"/><stop offset="0.6143" stop-color="#1a1a1a"/><stop offset="0.6286" stop-color="#161616"/><stop offset="0.6429" stop-color="#131313"/><stop offset="0.6643" stop-color="#0e0e0e"/><stop offset="0.6857" stop-color="#0b0b0b"/><stop offset="0.7143" stop-color="#070707"/><stop offset="0.7500" stop-color="#040404"/><stop offset="0.8000" stop-color="#020202"/><stop offset="0.8929" stop-color="#010101"/><stop offset="1.0000" stop-color="#010101"/></linearGradient><linearGradient id="g5" gradientUnits="userSpaceOnUse" x1="383.4" x2="523.4" y1="0" y2="0"><stop offset="0.0000" stop-color="#010101"/><stop offset="0.1071" stop-color="#010101"/><stop offset="0.2000" stop-color="#020202"/><stop offset="0.2500" stop-color="#040404"/><stop offset="0.2857" stop-color="#070707"/><stop offset="0.3143" stop-color="#0a0a0a"/><stop offset="0.3357" stop-color="#0e0e0e"/><stop offset="0.3571" stop-color="#131313"/><stop offset="0.3714" stop-color="#161616"/><stop offset="0.3857" stop-color="#1a1a1a"/><stop offset="0.4000" stop-color="#1e1e1e"/><stop offset="0.4143" stop-color="#222222"/><stop offset="0.4250" stop-color="#252525"/><stop offset="0.4357" stop-color="#282828"/><stop offset="0.4464" stop-color="#2a2a2a"/><stop offset="0.4571" stop-color="#2d2d2d"/><stop offset="0.4679" stop-color="#2e2e2e"/><stop offset="0.4786" stop-color="#303030"/><stop offset="0.4893" stop-color="#313131"/><stop offset="0.5000" stop-color="#313131"/><stop offset="0.5107" stop-color="#313131"/><stop offset="0.5214" stop-color="#303030"/><stop offset="0.5321" stop-color="#2e2e2e"/><stop offset="0.5429" stop-color="#2d2d2d"/><stop offset="0.5536" stop-color="#2a2a2a"/><stop offset="0.5643" stop-color="#282828"/><stop offset="0.5750" stop-color="#252525"/><stop offset="0.5857" stop-color="#222222"/><stop offset="0.6000" stop-color="#1e1e1e"/><stop offset="0.6143" stop-color="#1a1a1a"/><stop offset="0.6286" stop-color="#161616"/><stop offset="0.6429" stop-color="#131313"/><stop offset="0.6643" stop-color="#0e0e0e"/><stop offset="0.6857" stop-color="#0a0a0a"/><stop offset="0.7143" stop-color="#070707"/><stop offset="0.7500" stop-color="#040404"/><stop offset="0.8000" stop-color="#020202"/><stop offset="0.8929" stop-color="#010101"/><stop offset="1.0000" stop-color="#010101"/></linearGradient><linearGradient id="g6" gradientUnits="userSpaceOnUse" x1="383.4" x2="523.4" y1="0" y2="0"><stop offset="0.0000" stop-color="#010101"/><stop offset="0.1071" stop-color="#010101"/><stop offset="0.2000" stop-color="#020202"/><stop offset="0.2500" stop-color="#040404"/><stop offset="0.2857" stop-color="#070707"/><stop offset="0.3143" stop-color="#0a0a0a"/><stop offset="0.3357" stop-color="#0e0e0e"/><stop offset="0.3571" stop-color="#131313"/><stop offset="0.3714" stop-color="#161616"/><stop offset="0.3857" stop-color="#1a1a1a"/><stop offset="0.4000" stop-color="#1e1e1e"/><stop offset="0.4143" stop-color="#232323"/><stop offset="0.4250" stop-color="#262626"/><stop offset="0.4357" stop-color="#292929"/><stop offset="0.4464" stop-color="#2b2b2b"/><stop offset="0.4571" stop-color="#2e2e2e"/><stop offset="0.4679" stop-color="#2f2f2f"/><stop offset="0.4786" stop-color="#313131"/><stop offset="0.4893" stop-color="#323232"/><stop offset="0.5000" stop-color="#323232"/><stop offset="0.5107" stop-color="#323232"/><stop offset="0.5214" stop-color="#313131"/><stop offset="0.5321" stop-color="#2f2f2f"/><stop offset="0.5429" stop-color="#2e2e2e"/><stop offset="0.5536" stop-color="#2b2b2b"/><stop offset="0.5643" stop-color="#292929"/><stop offset="0.5750" stop-color="#262626"/><stop offset="0.5857" stop-color="#232323"/><stop offset="0.6000" stop-color="#1e1e1e"/><stop offset="0.6143" stop-color="#1a1a1a"/><stop offset="0.6286" stop-color="#161616"/><stop offset="0.6429" stop-color="#131313"/><stop offset="0.6643" stop-color="#0e0e0e"/><stop offset="0.6857" stop-color="#0a0a0a"/><stop offset="0.7143" stop-color="#070707"/><stop offset="0.7500" stop-color="#040404"/><stop offset="0.8000" stop-color="#020202"/><stop offset="0.8929" stop-color="#010101"/><stop offset="1.0000" stop-color="#010101"/></linearGradient><linearGradient id="g7" gradientUnits="userSpaceOnUse" x1="383.4" x2="523.4" y1="0" y2="0"><stop offset="0.0000" stop-color="#010101"/><stop offset="0.1071" stop-color="#010101"/><stop offset="0.2000" stop-color="#020202"/><stop offset="0.2500" stop-color="#040404"/><stop offset="0.2857" stop-color="#070707"/><stop offset="0.3143" stop-color="#0a0a0a"/><stop offset="0.3357" stop-color="#0e0e0e"/><stop offset="0.3571" stop-color="#131313"/><stop offset="0.3714" stop-color="#161616"/><stop offset="0.3857" stop-color="#1a1a1a"/><stop offset="0.4000" stop-color="#1f1f1f"/><stop offset="0.4143" stop-color="#232323"/><stop offset="0.4250" stop-color="#262626"/><stop offset="0.4357" stop-color="#292929"/><stop offset="0.4464" stop-color="#2c2c2c"/><stop offset="0.4571" stop-color="#2f2f2f"/><stop offset="0.4679" stop-color="#313131"/><stop offset="0.4786" stop-color="#323232"/><stop offset="0.4893" stop-color="#333333"/><stop offset="0.5000" stop-color="#333333"/><stop offset="0.5107" stop-color="#333333"/><stop offset="0.5214" stop-color="#323232"/><stop offset="0.5321" stop-color="#313131"/><stop offset="0.5429" stop-color="#2f2f2f"/><stop offset="0.5536" stop-color="#2c2c2c"/><stop offset="0.5643" stop-color="#292929"/><stop offset="0.5750" stop-color="#262626"/><stop offset="0.5857" stop-color="#232323"/><stop offset="0.6000" stop-color="#1f1f1f"/><stop offset="0.6143" stop-color="#1a1a1a"/><stop offset="0.6286" stop-color="#161616"/><stop offset="0.6429" stop-color="#131313"/><stop offset="0.6643" stop-color="#0e0e0e"/><stop offset="0.6857" stop-color="#0a0a0a"/><stop offset="0.7143" stop-color="#070707"/><stop offset="0.7500" stop-color="#040404"/><stop offset="0.8000" stop-color="#020202"/><stop offset="0.8929" stop-color="#010101"/><stop offset="1.0000" stop-color="#010101"/></linearGradient><linearGradient id="g8" gradientUnits="userSpaceOnUse" x1="383.4" x2="523.4" y1="0" y2="0"><stop offset="0.0000" stop-color="#010101"/><stop offset="0.1071" stop-color="#010101"/><stop offset="0.2000" stop-color="#020202"/><stop offset="0.2500" stop-color="#040404"/><stop offset="0.2857" stop-color="#060606"/><stop offset="0.3143" stop-color="#0a0a0a"/><stop offset="0.3357" stop-color="#0e0e0e"/><stop offset="0.3571" stop-color="#121212"/><stop offset="0.3714" stop-color="#161616"/><stop offset="0.3857" stop-color="#1a1a1a"/><stop offset="0.4000" stop-color="#1f1f1f"/><stop offset="0.4143" stop-color="#232323"/><stop offset="0.4250" stop-color="#272727"/><stop offset="0.4357" stop-color="#2a2a2a"/><stop offset="0.4464" stop-color="#2d2d2d"/><stop offset="0.4571" stop-color="#303030"/><stop offset="0.4679" stop-color="#323232"/><stop offset="0.4786" stop-color="#333333"/><stop offset="0.4893" stop-color="#343434"/><stop offset="0.5000" stop-color="#353535"/><stop offset="0.5107" stop-color="#343434"/><stop offset="0.5214" stop-color="#333333"/><stop offset="0.5321" stop-color="#323232"/><stop offset="0.5429" stop-color="#303030"/><stop offset="0.5536" stop-color="#2d2d2d"/><stop offset="0.5643" stop-color="#2a2a2a"/><stop offset="0.5750" stop-color="#272727"/><stop offset="0.5857" stop-color="#232323"/><stop offset="0.6000" stop-color="#1f1f1f"/><stop offset="0.6143" stop-color="#1a1a1a"/><stop offset="0.6286" stop-color="#161616"/><stop offset="0.6429" stop-color="#121212"/><stop offset="0.6643" stop-color="#0e0e0e"/><stop offset="0.6857" stop-color="#0a0a0a"/><stop offset="0.7143" stop-color="#060606"/><stop offset="0.7500" stop-color="#040404"/><stop offset="0.8000" stop-color="#020202"/><stop offset="0.8929" stop-color="#010101"/><stop offset="1.0000" stop-color="#010101"/></linearGradient><linearGradient id="g9" gradientUnits="userSpaceOnUse" x1="383.4" x2="523.4" y1="0" y2="0"><stop offset="0.0000" stop-color="#010101"/><stop offset="0.1071" stop-color="#010101"/><stop offset="0.2000" stop-color="#020202"/><stop offset="0.2500" stop-color="#040404"/><stop offset="0.2857" stop-color="#060606"/><stop offset="0.3143" stop-color="#0a0a0a"/><stop offset="0.3357" stop-color="#0d0d0d"/><stop offset="0.3571" stop-color="#121212"/><stop offset="0.3714" stop-color="#161616"/><stop offset="0.3857" stop-color="#1a1a1a"/><stop offset="0.4000" stop-color="#1f1f1f"/><stop offset="0.4143" stop-color="#242424"/><stop offset="0.4250" stop-color="#272727"/><stop offset="0.4357" stop-color="#2b2b2b"/><stop offset="0.4464" stop-color="#2e2e2e"/><stop offset="0.4571" stop-color="#313131"/><stop offset="0.4679" stop-color="#333333"/><stop offset="0.4786" stop-color="#353535"/><stop offset="0.4893" stop-color="#363636"/><stop offset="0.5000" stop-color="#363636"/><stop offset="0.5107" stop-color="#363636"/><stop offset="0.5214" stop-color="#353535"/><stop offset="0.5321" stop-color="#333333"/><stop offset="0.5429" stop-color="#313131"/><stop offset="0.5536" stop-color="#2e2e2e"/><stop offset="0.5643" stop-color="#2b2b2b"/><stop offset="0.5750" stop-color="#272727"/><stop offset="0.5857" stop-color="#242424"/><stop offset="0.6000" stop-color="#1f1f1f"/><stop offset="0.6143" stop-color="#1a1a1a"/><stop offset="0.6286" stop-color="#161616"/><stop offset="0.6429" stop-color="#121212"/><stop offset="0.6643" stop-color="#0d0d0d"/><stop offset="0.6857" stop-color="#0a0a0a"/><stop offset="0.7143" stop-color="#060606"/><stop offset="0.7500" stop-color="#040404"/><stop offset="0.8000" stop-color="#020202"/><stop offset="0.8929" stop-color="#010101"/><stop offset="1.0000" stop-color="#010101"/></linearGradient><linearGradient id="g10" gradientUnits="userSpaceOnUse" x1="383.4" x2="523.4" y1="0" y2="0"><stop offset="0.0000" stop-color="#010101"/><stop offset="0.1071" stop-color="#010101"/><stop offset="0.2000" stop-color="#020202"/><stop offset="0.2500" stop-color="#040404"/><stop offset="0.2857" stop-color="#060606"/><stop offset="0.3143" stop-color="#090909"/><stop offset="0.3357" stop-color="#0d0d0d"/><stop offset="0.3571" stop-color="#121212"/><stop offset="0.3714" stop-color="#161616"/><stop offset="0.3857" stop-color="#1b1b1b"/><stop offset="0.4000" stop-color="#1f1f1f"/><stop offset="0.4143" stop-color="#242424"/><stop offset="0.4250" stop-color="#282828"/><stop offset="0.4357" stop-color="#2c2c2c"/><stop offset="0.4464" stop-color="#2f2f2f"/><stop offset="0.4571" stop-color="#323232"/><stop offset="0.4679" stop-color="#343434"/><stop offset="0.4786" stop-color="#363636"/><stop offset="0.4893" stop-color="#373737"/><stop offset="0.5000" stop-color="#373737"/><stop offset="0.5107" stop-color="#373737"/><stop offset="0.5214" stop-color="#363636"/><stop offset="0.5321" stop-color="#343434"/><stop offset="0.5429" stop-color="#323232"/><stop offset="0.5536" stop-color="#2f2f2f"/><stop offset="0.5643" stop-color="#2c2c2c"/><stop offset="0.5750" stop-color="#282828"/><stop offset="0.5857" stop-color="#242424"/><stop offset="0.6000" stop-color="#1f1f1f"/><stop offset="0.6143" stop-color="#1b1b1b"/><stop offset="0.6286" stop-color="#161616"/><stop offset="0.6429" stop-color="#121212"/><stop offset="0.6643" stop-color="#0d0d0d"/><stop offset="0.6857" stop-color="#090909"/><stop offset="0.7143" stop-color="#060606"/><stop offset="0.7500" stop-color="#040404"/><stop offset="0.8000" stop-color="#020202"/><stop offset="0.8929" stop-color="#010101"/><stop offset="1.0000" stop-color="#010101"/></linearGradient><linearGradient id="g11" gradientUnits="userSpaceOnUse" x1="383.4" x2="523.4" y1="0" y2="0"><stop offset="0.0000" stop-color="#010101"/><stop offset="0.1071" stop-color="#010101"/><stop offset="0.2000" stop-color="#020202"/><stop offset="0.2500" stop-color="#030303"/><stop offset="0.2857" stop-color="#060606"/><stop offset="0.3143" stop-color="#090909"/><stop offset="0.3357" stop-color="#0d0d0d"/><stop offset="0.3571" stop-color="#121212"/><stop offset="0.3714" stop-color="#161616"/><stop offset="0.3857" stop-color="#1b1b1b"/><stop offset="0.4000" stop-color="#202020"/><stop offset="0.4143" stop-color="#252525"/><stop offset="0.4250" stop-color="#292929"/><stop offset="0.4357" stop-color="#2c2c2c"/><stop offset="0.4464" stop-color="#303030"/><stop offset="0.4571" stop-color="#333333"/><stop offset="0.4679" stop-color="#353535"/><stop offset="0.4786" stop-color="#373737"/><stop offset="0.4893" stop-color="#383838"/><stop offset="0.5000" stop-color="#393939"/><stop offset="0.5107" stop-color="#383838"/><stop offset="0.5214" stop-color="#373737"/><stop offset="0.5321" stop-color="#353535"/><stop offset="0.5429" stop-color="#333333"/><stop offset="0.5536" stop-color="#303030"/><stop offset="0.5643" stop-color="#2c2c2c"/><stop offset="0.5750" stop-color="#292929"/><stop offset="0.5857" stop-color="#252525"/><stop offset="0.6000" stop-color="#202020"/><stop offset="0.6143" stop-color="#1b1b1b"/><stop offset="0.6286" stop-color="#161616"/><stop offset="0.6429" stop-color="#121212"/><stop offset="0.6643" stop-color="#0d0d0d"/><stop offset="0.6857" stop-color="#090909"/><stop offset="0.7143" stop-color="#060606"/><stop offset="0.7500" stop-color="#030303"/><stop offset="0.8000" stop-color="#020202"/><stop offset="0.8929" stop-color="#010101"/><stop offset="1.0000" stop-color="#010101"/></linearGradient><linearGradient id="g12" gradientUnits="userSpaceOnUse" x1="383.4" x2="523.4" y1="0" y2="0"><stop offset="0.0000" stop-color="#010101"/><stop offset="0.1071" stop-color="#010101"/><stop offset="0.2000" stop-color="#020202"/><stop offset="0.2500" stop-color="#030303"/><stop offset="0.2857" stop-color="#060606"/><stop offset="0.3143" stop-color="#090909"/><stop offset="0.3357" stop-color="#0d0d0d"/><stop offset="0.3571" stop-color="#121212"/><stop offset="0.3714" stop-color="#161616"/><stop offset="0.3857" stop-color="#1b1b1b"/><stop offset="0.4000" stop-color="#202020"/><stop offset="0.4143" stop-color="#252525"/><stop offset="0.4250" stop-color="#292929"/><stop offset="0.4357" stop-color="#2d2d2d"/><stop offset="0.4464" stop-color="#313131"/><stop offset="0.4571" stop-color="#343434"/><stop offset="0.4679" stop-color="#373737"/><stop offset="0.4786" stop-color="#393939"/><stop offset="0.4893" stop-color="#3a3a3a"/><stop offset="0.5000" stop-color="#3a3a3a"/><stop offset="0.5107" stop-color="#3a3a3a"/><stop offset="0.5214" stop-color="#393939"/><stop offset="0.5321" stop-color="#373737"/><stop offset="0.5429" stop-color="#343434"/><stop offset="0.5536" stop-color="#313131"/><stop offset="0.5643" stop-color="#2d2d2d"/><stop offset="0.5750" stop-color="#292929"/><stop offset="0.5857" stop-color="#252525"/><stop offset="0.6000" stop-color="#202020"/><stop offset="0.6143" stop-color="#1b1b1b"/><stop offset="0.6286" stop-color="#161616"/><stop offset="0.6429" stop-color="#121212"/><stop offset="0.6643" stop-color="#0d0d0d"/><stop offset="0.6857" stop-color="#090909"/><stop offset="0.7143" stop-color="#060606"/><stop offset="0.7500" stop-color="#030303"/><stop offset="0.8000" stop-color="#020202"/><stop offset="0.8929" stop-color="#010101"/><stop offset="1.0000" stop-color="#010101"/></linearGradient><linearGradient id="g13" gradientUnits="userSpaceOnUse" x1="383.4" x2="523.4" y1="0" y2="0"><stop offset="0.0000" stop-color="#010101"/><stop offset="0.1071" stop-color="#010101"/><stop offset="0.2000" stop-color="#020202"/><stop offset="0.2500" stop-color="#030303"/><stop offset="0.2857" stop-color="#050505"/><stop offset="0.3143" stop-color="#090909"/><stop offset="0.3357" stop-color="#0c0c0c"/><stop offset="0.3571" stop-color="#121212"/><stop offset="0.3714" stop-color="#161616"/><stop offset="0.3857" stop-color="#1b1b1b"/><stop offset="0.4000" stop-color="#202020"/><stop offset="0.4143" stop-color="#262626"/><stop offset="0.4250" stop-color="#2a2a2a"/><stop offset="0.4357" stop-color="#2e2e2e"/><stop offset="0.4464" stop-color="#323232"/><stop offset="0.4571" stop-color="#353535"/><stop offset="0.4679" stop-color="#383838"/><stop offset="0.4786" stop-color="#3a3a3a"/><stop offset="0.4893" stop-color="#3c3c3c"/><stop offset="0.5000" stop-color="#3c3c3c"/><stop offset="0.5107" stop-color="#3c3c3c"/><stop offset="0.5214" stop-color="#3a3a3a"/><stop offset="0.5321" stop-color="#383838"/><stop offset="0.5429" stop-color="#353535"/><stop offset="0.5536" stop-color="#323232"/><stop offset="0.5643" stop-color="#2e2e2e"/><stop offset="0.5750" stop-color="#2a2a2a"/><stop offset="0.5857" stop-color="#262626"/><stop offset="0.6000" stop-color="#202020"/><stop offset="0.6143" stop-color="#1b1b1b"/><stop offset="0.6286" stop-color="#161616"/><stop offset="0.6429" stop-color="#121212"/><stop offset="0.6643" stop-color="#0c0c0c"/><stop offset="0.6857" stop-color="#090909"/><stop offset="0.7143" stop-color="#050505"/><stop offset="0.7500" stop-color="#030303"/><stop offset="0.8000" stop-color="#020202"/><stop offset="0.8929" stop-color="#010101"/><stop offset="1.0000" stop-color="#010101"/></linearGradient><linearGradient id="g14" gradientUnits="userSpaceOnUse" x1="383.4" x2="523.4" y1="0" y2="0"><stop offset="0.0000" stop-color="#010101"/><stop offset="0.1071" stop-color="#010101"/><stop offset="0.2000" stop-color="#020202"/><stop offset="0.2500" stop-color="#030303"/><stop offset="0.2857" stop-color="#050505"/><stop offset="0.3143" stop-color="#080808"/><stop offset="0.3357" stop-color="#0c0c0c"/><stop offset="0.3571" stop-color="#111111"/><stop offset="0.3714" stop-color="#161616"/><stop offset="0.3857" stop-color="#1b1b1b"/><stop offset="0.4000" stop-color="#202020"/><stop offset="0.4143" stop-color="#262626"/><stop offset="0.4250" stop-color="#2b2b2b"/><stop offset="0.4357" stop-color="#2f2f2f"/><stop offset="0.4464" stop-color="#333333"/><stop offset="0.4571" stop-color="#373737"/><stop offset="0.4679" stop-color="#3a3a3a"/><stop offset="0.4786" stop-color="#3c3c3c"/><stop offset="0.4893" stop-color="#3d3d3d"/><stop offset="0.5000" stop-color="#3e3e3e"/><stop offset="0.5107" stop-color="#3d3d3d"/><stop offset="0.5214" stop-color="#3c3c3c"/><stop offset="0.5321" stop-color="#3a3a3a"/><stop offset="0.5429" stop-color="#373737"/><stop offset="0.5536" stop-color="#333333"/><stop offset="0.5643" stop-color="#2f2f2f"/><stop offset="0.5750" stop-color="#2b2b2b"/><stop offset="0.5857" stop-color="#262626"/><stop offset="0.6000" stop-color="#202020"/><stop offset="0.6143" stop-color="#1b1b1b"/><stop offset="0.6286" stop-color="#161616"/><stop offset="0.6429" stop-color="#111111"/><stop offset="0.6643" stop-color="#0c0c0c"/><stop offset="0.6857" stop-color="#080808"/><stop offset="0.7143" stop-color="#050505"/><stop offset="0.7500" stop-color="#030303"/><stop offset="0.8000" stop-color="#020202"/><stop offset="0.8929" stop-color="#010101"/><stop offset="1.0000" stop-color="#010101"/></linearGradient><linearGradient id="g15" gradientUnits="userSpaceOnUse" x1="383.4" x2="523.4" y1="0" y2="0"><stop offset="0.0000" stop-color="#010101"/><stop offset="0.1071" stop-color="#010101"/><stop offset="0.2000" stop-color="#020202"/><stop offset="0.2500" stop-color="#030303"/><stop offset="0.2857" stop-color="#050505"/><stop offset="0.3143" stop-color="#080808"/><stop offset="0.3357" stop-color="#0c0c0c"/><stop offset="0.3571" stop-color="#111111"/><stop offset="0.3714" stop-color="#161616"/><stop offset="0.3857" stop-color="#1b1b1b"/><stop offset="0.4000" stop-color="#202020"/><stop offset="0.4143" stop-color="#272727"/><stop offset="0.4250" stop-color="#2b2b2b"/><stop offset="0.4357" stop-color="#303030"/><stop offset="0.4464" stop-color="#343434"/><stop offset="0.4571" stop-color="#383838"/><stop offset="0.4679" stop-color="#3b3b3b"/><stop offset="0.4786" stop-color="#3d3d3d"/><stop offset="0.4893" stop-color="#3f3f3f"/><stop offset="0.5000" stop-color="#3f3f3f"/><stop offset="0.5107" stop-color="#3f3f3f"/><stop offset="0.5214" stop-color="#3d3d3d"/><stop offset="0.5321" stop-color="#3b3b3b"/><stop offset="0.5429" stop-color="#383838"/><stop offset="0.5536" stop-color="#343434"/><stop offset="0.5643" stop-color="#303030"/><stop offset="0.5750" stop-color="#2b2b2b"/><stop offset="0.5857" stop-color="#272727"/><stop offset="0.6000" stop-color="#202020"/><stop offset="0.6143" stop-color="#1b1b1b"/><stop offset="0.6286" stop-color="#161616"/><stop offset="0.6429" stop-color="#111111"/><stop offset="0.6643" stop-color="#0c0c0c"/><stop offset="0.6857" stop-color="#080808"/><stop offset="0.7143" stop-color="#050505"/><stop offset="0.7500" stop-color="#030303"/><stop offset="0.8000" stop-color="#020202"/><stop offset="0.8929" stop-color="#010101"/><stop offset="1.0000" stop-color="#010101"/></linearGradient><linearGradient id="g16" gradientUnits="userSpaceOnUse" x1="383.4" x2="523.4" y1="0" y2="0"><stop offset="0.0000" stop-color="#010101"/><stop offset="0.1071" stop-color="#010101"/><stop offset="0.2000" stop-color="#020202"/><stop offset="0.2500" stop-color="#030303"/><stop offset="0.2857" stop-color="#050505"/><stop offset="0.3143" stop-color="#080808"/><stop offset="0.3357" stop-color="#0c0c0c"/><stop offset="0.3571" stop-color="#111111"/><stop offset="0.3714" stop-color="#151515"/><stop offset="0.3857" stop-color="#1b1b1b"/><stop offset="0.4000" stop-color="#212121"/><stop offset="0.4143" stop-color="#272727"/><stop offset="0.4250" stop-color="#2c2c2c"/><stop offset="0.4357" stop-color="#313131"/><stop offset="0.4464" stop-color="#353535"/><stop offset="0.4571" stop-color="#393939"/><stop offset="0.4679" stop-color="#3d3d3d"/><stop offset="0.4786" stop-color="#3f3f3f"/><stop offset="0.4893" stop-color="#414141"/><stop offset="0.5000" stop-color="#414141"/><stop offset="0.5107" stop-color="#414141"/><stop offset="0.5214" stop-color="#3f3f3f"/><stop offset="0.5321" stop-color="#3d3d3d"/><stop offset="0.5429" stop-color="#393939"/><stop offset="0.5536" stop-color="#353535"/><stop offset="0.5643" stop-color="#313131"/><stop offset="0.5750" stop-color="#2c2c2c"/><stop offset="0.5857" stop-color="#272727"/><stop offset="0.6000" stop-color="#212121"/><stop offset="0.6143" stop-color="#1b1b1b"/><stop offset="0.6286" stop-color="#151515"/><stop offset="0.6429" stop-color="#111111"/><stop offset="0.6643" stop-color="#0c0c0c"/><stop offset="0.6857" stop-color="#080808"/><stop offset="0.7143" stop-color="#050505"/><stop offset="0.7500" stop-color="#030303"/><stop offset="0.8000" stop-color="#020202"/><stop offset="0.8929" stop-color="#010101"/><stop offset="1.0000" stop-color="#010101"/></linearGradient><linearGradient id="g17" gradientUnits="userSpaceOnUse" x1="383.4" x2="523.4" y1="0" y2="0"><stop offset="0.0000" stop-color="#000000"/><stop offset="0.1071" stop-color="#010101"/><stop offset="0.2000" stop-color="#020202"/><stop offset="0.2500" stop-color="#030303"/><stop offset="0.2857" stop-color="#050505"/><stop offset="0.3143" stop-color="#080808"/><stop offset="0.3357" stop-color="#0b0b0b"/><stop offset="0.3571" stop-color="#111111"/><stop offset="0.3714" stop-color="#151515"/><stop offset="0.3857" stop-color="#1b1b1b"/><stop offset="0.4000" stop-color="#212121"/><stop offset="0.4143" stop-color="#282828"/><stop offset="0.4250" stop-color="#2d2d2d"/><stop offset="0.4357" stop-color="#323232"/><stop offset="0.4464" stop-color="#363636"/><stop offset="0.4571" stop-color="#3b3b3b"/><stop offset="0.4679" stop-color="#3e3e3e"/><stop offset="0.4786" stop-color="#414141"/><stop offset="0.4893" stop-color="#434343"/><stop offset="0.5000" stop-color="#434343"/><stop offset="0.5107" stop-color="#434343"/><stop offset="0.5214" stop-color="#414141"/><stop offset="0.5321" stop-color="#3e3e3e"/><stop offset="0.5429" stop-color="#3b3b3b"/><stop offset="0.5536" stop-color="#363636"/><stop offset="0.5643" stop-color="#323232"/><stop offset="0.5750" stop-color="#2d2d2d"/><stop offset="0.5857" stop-color="#282828"/><stop offset="0.6000" stop-color="#212121"/><stop offset="0.6143" stop-color="#1b1b1b"/><stop offset="0.6286" stop-color="#151515"/><stop offset="0.6429" stop-color="#111111"/><stop offset="0.6643" stop-color="#0b0b0b"/><stop offset="0.6857" stop-color="#080808"/><stop offset="0.7143" stop-color="#050505"/><stop offset="0.7500" stop-color="#030303"/><stop offset="0.8000" stop-color="#020202"/><stop offset="0.8929" stop-color="#010101"/><stop offset="1.0000" stop-color="#000000"/></linearGradient><linearGradient id="g18" gradientUnits="userSpaceOnUse" x1="383.4" x2="523.4" y1="0" y2="0"><stop offset="0.0000" stop-color="#000000"/><stop offset="0.1071" stop-color="#010101"/><stop offset="0.2000" stop-color="#020202"/><stop offset="0.2500" stop-color="#030303"/><stop offset="0.2857" stop-color="#050505"/><stop offset="0.3143" stop-color="#080808"/><stop offset="0.3357" stop-color="#0b0b0b"/><stop offset="0.3571" stop-color="#111111"/><stop offset="0.3714" stop-color="#151515"/><stop offset="0.3857" stop-color="#1b1b1b"/><stop offset="0.4000" stop-color="#212121"/><stop offset="0.4143" stop-color="#282828"/><stop offset="0.4250" stop-color="#2d2d2d"/><stop offset="0.4357" stop-color="#333333"/><stop offset="0.4464" stop-color="#383838"/><stop offset="0.4571" stop-color="#3c3c3c"/><stop offset="0.4679" stop-color="#404040"/><stop offset="0.4786" stop-color="#434343"/><stop offset="0.4893" stop-color="#444444"/><stop offset="0.5000" stop-color="#454545"/><stop offset="0.5107" stop-color="#444444"/><stop offset="0.5214" stop-color="#434343"/><stop offset="0.5321" stop-color="#404040"/><stop offset="0.5429" stop-color="#3c3c3c"/><stop offset="0.5536" stop-color="#383838"/><stop offset="0.5643" stop-color="#333333"/><stop offset="0.5750" stop-color="#2d2d2d"/><stop offset="0.5857" stop-color="#282828"/><stop offset="0.6000" stop-color="#212121"/><stop offset="0.6143" stop-color="#1b1b1b"/><stop offset="0.6286" stop-color="#151515"/><stop offset="0.6429" stop-color="#111111"/><stop offset="0.6643" stop-color="#0b0b0b"/><stop offset="0.6857" stop-color="#080808"/><stop offset="0.7143" stop-color="#050505"/><stop offset="0.7500" stop-color="#030303"/><stop offset="0.8000" stop-color="#020202"/><stop offset="0.8929" stop-color="#010101"/><stop offset="1.0000" stop-color="#000000"/></linearGradient><linearGradient id="g19" gradientUnits="userSpaceOnUse" x1="383.4" x2="523.4" y1="0" y2="0"><stop offset="0.0000" stop-color="#000000"/><stop offset="0.1071" stop-color="#010101"/><stop offset="0.2000" stop-color="#020202"/><stop offset="0.2500" stop-color="#030303"/><stop offset="0.2857" stop-color="#050505"/><stop offset="0.3143" stop-color="#070707"/><stop offset="0.3357" stop-color="#0b0b0b"/><stop offset="0.3571" stop-color="#101010"/><stop offset="0.3714" stop-color="#151515"/><stop offset="0.3857" stop-color="#1b1b1b"/><stop offset="0.4000" stop-color="#212121"/><stop offset="0.4143" stop-color="#292929"/><stop offset="0.4250" stop-color="#2e2e2e"/><stop offset="0.4357" stop-color="#343434"/><stop offset="0.4464" stop-color="#393939"/><stop offset="0.4571" stop-color="#3e3e3e"/><stop offset="0.4679" stop-color="#424242"/><stop offset="0.4786" stop-color="#454545"/><stop offset="0.4893" stop-color="#464646"/><stop offset="0.5000" stop-color="#474747"/><stop offset="0.5107" stop-color="#464646"/><stop offset="0.5214" stop-color="#454545"/><stop offset="0.5321" stop-color="#424242"/><stop offset="0.5429" stop-color="#3e3e3e"/><stop offset="0.5536" stop-color="#393939"/><stop offset="0.5643" stop-color="#343434"/><stop offset="0.5750" stop-color="#2e2e2e"/><stop offset="0.5857" stop-color="#292929"/><stop offset="0.6000" stop-color="#212121"/><stop offset="0.6143" stop-color="#1b1b1b"/><stop offset="0.6286" stop-color="#151515"/><stop offset="0.6429" stop-color="#101010"/><stop offset="0.6643" stop-color="#0b0b0b"/><stop offset="0.6857" stop-color="#070707"/><stop offset="0.7143" stop-color="#050505"/><stop offset="0.7500" stop-color="#030303"/><stop offset="0.8000" stop-color="#020202"/><stop offset="0.8929" stop-color="#010101"/><stop offset="1.0000" stop-color="#000000"/></linearGradient><linearGradient id="g20" gradientUnits="userSpaceOnUse" x1="383.4" x2="523.4" y1="0" y2="0"><stop offset="0.0000" stop-color="#000000"/><stop offset="0.1071" stop-color="#010101"/><stop offset="0.2000" stop-color="#020202"/><stop offset="0.2500" stop-color="#030303"/><stop offset="0.2857" stop-color="#040404"/><stop offset="0.3143" stop-color="#070707"/><stop offset="0.3357" stop-color="#0b0b0b"/><stop offset="0.3571" stop-color="#101010"/><stop offset="0.3714" stop-color="#151515"/><stop offset="0.3857" stop-color="#1b1b1b"/><stop offset="0.4000" stop-color="#222222"/><stop offset="0.4143" stop-color="#292929"/><stop offset="0.4250" stop-color="#2f2f2f"/><stop offset="0.4357" stop-color="#353535"/><stop offset="0.4464" stop-color="#3a3a3a"/><stop offset="0.4571" stop-color="#3f3f3f"/><stop offset="0.4679" stop-color="#434343"/><stop offset="0.4786" stop-color="#474747"/><stop offset="0.4893" stop-color="#494949"/><stop offset="0.5000" stop-color="#494949"/><stop offset="0.5107" stop-color="#494949"/><stop offset="0.5214" stop-color="#474747"/><stop offset="0.5321" stop-color="#434343"/><stop offset="0.5429" stop-color="#3f3f3f"/><stop offset="0.5536" stop-color="#3a3a3a"/><stop offset="0.5643" stop-color="#353535"/><stop offset="0.5750" stop-color="#2f2f2f"/><stop offset="0.5857" stop-color="#292929"/><stop offset="0.6000" stop-color="#222222"/><stop offset="0.6143" stop-color="#1b1b1b"/><stop offset="0.6286" stop-color="#151515"/><stop offset="0.6429" stop-color="#101010"/><stop offset="0.6643" stop-color="#0b0b0b"/><stop offset="0.6857" stop-color="#070707"/><stop offset="0.7143" stop-color="#040404"/><stop offset="0.7500" stop-color="#030303"/><stop offset="0.8000" stop-color="#020202"/><stop offset="0.8929" stop-color="#010101"/><stop offset="1.0000" stop-color="#000000"/></linearGradient><linearGradient id="g21" gradientUnits="userSpaceOnUse" x1="383.4" x2="523.4" y1="0" y2="0"><stop offset="0.0000" stop-color="#000000"/><stop offset="0.1071" stop-color="#010101"/><stop offset="0.2000" stop-color="#020202"/><stop offset="0.2500" stop-color="#030303"/><stop offset="0.2857" stop-color="#040404"/><stop offset="0.3143" stop-color="#070707"/><stop offset="0.3357" stop-color="#0a0a0a"/><stop offset="0.3571" stop-color="#101010"/><stop offset="0.3714" stop-color="#151515"/><stop offset="0.3857" stop-color="#1b1b1b"/><stop offset="0.4000" stop-color="#222222"/><stop offset="0.4143" stop-color="#2a2a2a"/><stop offset="0.4250" stop-color="#303030"/><stop offset="0.4357" stop-color="#363636"/><stop offset="0.4464" stop-color="#3c3c3c"/><stop offset="0.4571" stop-color="#414141"/><stop offset="0.4679" stop-color="#454545"/><stop offset="0.4786" stop-color="#494949"/><stop offset="0.4893" stop-color="#4b4b4b"/><stop offset="0.5000" stop-color="#4c4c4c"/><stop offset="0.5107" stop-color="#4b4b4b"/><stop offset="0.5214" stop-color="#494949"/><stop offset="0.5321" stop-color="#454545"/><stop offset="0.5429" stop-color="#414141"/><stop offset="0.5536" stop-color="#3c3c3c"/><stop offset="0.5643" stop-color="#363636"/><stop offset="0.5750" stop-color="#303030"/><stop offset="0.5857" stop-color="#2a2a2a"/><stop offset="0.6000" stop-color="#222222"/><stop offset="0.6143" stop-color="#1b1b1b"/><stop offset="0.6286" stop-color="#151515"/><stop offset="0.6429" stop-color="#101010"/><stop offset="0.6643" stop-color="#0a0a0a"/><stop offset="0.6857" stop-color="#070707"/><stop offset="0.7143" stop-color="#040404"/><stop offset="0.7500" stop-color="#030303"/><stop offset="0.8000" stop-color="#020202"/><stop offset="0.8929" stop-color="#010101"/><stop offset="1.0000" stop-color="#000000"/></linearGradient><linearGradient id="g22" gradientUnits="userSpaceOnUse" x1="383.4" x2="523.4" y1="0" y2="0"><stop offset="0.0000" stop-color="#000000"/><stop offset="0.1071" stop-color="#010101"/><stop offset="0.2000" stop-color="#020202"/><stop offset="0.2500" stop-color="#030303"/><stop offset="0.2857" stop-color="#040404"/><stop offset="0.3143" stop-color="#070707"/><stop offset="0.3357" stop-color="#0a0a0a"/><stop offset="0.3571" stop-color="#101010"/><stop offset="0.3714" stop-color="#151515"/><stop offset="0.3857" stop-color="#1b1b1b"/><stop offset="0.4000" stop-color="#222222"/><stop offset="0.4143" stop-color="#2a2a2a"/><stop offset="0.4250" stop-color="#303030"/><stop offset="0.4357" stop-color="#373737"/><stop offset="0.4464" stop-color="#3d3d3d"/><stop offset="0.4571" stop-color="#434343"/><stop offset="0.4679" stop-color="#474747"/><stop offset="0.4786" stop-color="#4b4b4b"/><stop offset="0.4893" stop-color="#4d4d4d"/><stop offset="0.5000" stop-color="#4e4e4e"/><stop offset="0.5107" stop-color="#4d4d4d"/><stop offset="0.5214" stop-color="#4b4b4b"/><stop offset="0.5321" stop-color="#474747"/><stop offset="0.5429" stop-color="#434343"/><stop offset="0.5536" stop-color="#3d3d3d"/><stop offset="0.5643" stop-color="#373737"/><stop offset="0.5750" stop-color="#303030"/><stop offset="0.5857" stop-color="#2a2a2a"/><stop offset="0.6000" stop-color="#222222"/><stop offset="0.6143" stop-color="#1b1b1b"/><stop offset="0.6286" stop-color="#151515"/><stop offset="0.6429" stop-color="#101010"/><stop offset="0.6643" stop-color="#0a0a0a"/><stop offset="0.6857" stop-color="#070707"/><stop offset="0.7143" stop-color="#040404"/><stop offset="0.7500" stop-color="#030303"/><stop offset="0.8000" stop-color="#020202"/><stop offset="0.8929" stop-color="#010101"/><stop offset="1.0000" stop-color="#000000"/></linearGradient><linearGradient id="g23" gradientUnits="userSpaceOnUse" x1="383.4" x2="523.4" y1="0" y2="0"><stop offset="0.0000" stop-color="#000000"/><stop offset="0.1071" stop-color="#010101"/><stop offset="0.2000" stop-color="#020202"/><stop offset="0.2500" stop-color="#030303"/><stop offset="0.2857" stop-color="#040404"/><stop offset="0.3143" stop-color="#070707"/><stop offset="0.3357" stop-color="#0a0a0a"/><stop offset="0.3571" stop-color="#0f0f0f"/><stop offset="0.3714" stop-color="#151515"/><stop offset="0.3857" stop-color="#1b1b1b"/><stop offset="0.4000" stop-color="#222222"/><stop offset="0.4143" stop-color="#2b2b2b"/><stop offset="0.4250" stop-color="#313131"/><stop offset="0.4357" stop-color="#383838"/><stop offset="0.4464" stop-color="#3e3e3e"/><stop offset="0.4571" stop-color="#444444"/><stop offset="0.4679" stop-color="#494949"/><stop offset="0.4786" stop-color="#4d4d4d"/><stop offset="0.4893" stop-color="#505050"/><stop offset="0.5000" stop-color="#505050"/><stop offset="0.5107" stop-color="#505050"/><stop offset="0.5214" stop-color="#4d4d4d"/><stop offset="0.5321" stop-color="#494949"/><stop offset="0.5429" stop-color="#444444"/><stop offset="0.5536" stop-color="#3e3e3e"/><stop offset="0.5643" stop-color="#383838"/><stop offset="0.5750" stop-color="#313131"/><stop offset="0.5857" stop-color="#2b2b2b"/><stop offset="0.6000" stop-color="#222222"/><stop offset="0.6143" stop-color="#1b1b1b"/><stop offset="0.6286" stop-color="#151515"/><stop offset="0.6429" stop-color="#0f0f0f"/><stop offset="0.6643" stop-color="#0a0a0a"/><stop offset="0.6857" stop-color="#070707"/><stop offset="0.7143" stop-color="#040404"/><stop offset="0.7500" stop-color="#030303"/><stop offset="0.8000" stop-color="#020202"/><stop offset="0.8929" stop-color="#010101"/><stop offset="1.0000" stop-color="#000000"/></linearGradient><linearGradient id="g24" gradientUnits="userSpaceOnUse" x1="383.4" x2="523.4" y1="0" y2="0"><stop offset="0.0000" stop-color="#000000"/><stop offset="0.1071" stop-color="#010101"/><stop offset="0.2000" stop-color="#020202"/><stop offset="0.2500" stop-color="#020202"/><stop offset="0.2857" stop-color="#040404"/><stop offset="0.3143" stop-color="#060606"/><stop offset="0.3357" stop-color="#0a0a0a"/><stop offset="0.3571" stop-color="#0f0f0f"/><stop offset="0.3714" stop-color="#141414"/><stop offset="0.3857" stop-color="#1b1b1b"/><stop offset="0.4000" stop-color="#222222"/><stop offset="0.4143" stop-color="#2b2b2b"/><stop offset="0.4250" stop-color="#323232"/><stop offset="0.4357" stop-color="#393939"/><stop offset="0.4464" stop-color="#404040"/><stop offset="0.4571" stop-color="#464646"/><stop offset="0.4679" stop-color="#4b4b4b"/><stop offset="0.4786" stop-color="#505050"/><stop offset="0.4893" stop-color="#525252"/><stop offset="0.5000" stop-color="#535353"/><stop offset="0.5107" stop-color="#525252"/><stop offset="0.5214" stop-color="#505050"/><stop offset="0.5321" stop-color="#4b4b4b"/><stop offset="0.5429" stop-color="#464646"/><stop offset="0.5536" stop-color="#404040"/><stop offset="0.5643" stop-color="#393939"/><stop offset="0.5750" stop-color="#323232"/><stop offset="0.5857" stop-color="#2b2b2b"/><stop offset="0.6000" stop-color="#222222"/><stop offset="0.6143" stop-color="#1b1b1b"/><stop offset="0.6286" stop-color="#141414"/><stop offset="0.6429" stop-color="#0f0f0f"/><stop offset="0.6643" stop-color="#0a0a0a"/><stop offset="0.6857" stop-color="#060606"/><stop offset="0.7143" stop-color="#040404"/><stop offset="0.7500" stop-color="#020202"/><stop offset="0.8000" stop-color="#020202"/><stop offset="0.8929" stop-color="#010101"/><stop offset="1.0000" stop-color="#000000"/></linearGradient><linearGradient id="g25" gradientUnits="userSpaceOnUse" x1="383.4" x2="523.4" y1="0" y2="0"><stop offset="0.0000" stop-color="#000000"/><stop offset="0.1071" stop-color="#010101"/><stop offset="0.2000" stop-color="#020202"/><stop offset="0.2500" stop-color="#020202"/><stop offset="0.2857" stop-color="#040404"/><stop offset="0.3143" stop-color="#060606"/><stop offset="0.3357" stop-color="#0a0a0a"/><stop offset="0.3571" stop-color="#0f0f0f"/><stop offset="0.3714" stop-color="#141414"/><stop offset="0.3857" stop-color="#1b1b1b"/><stop offset="0.4000" stop-color="#232323"/><stop offset="0.4143" stop-color="#2c2c2c"/><stop offset="0.4250" stop-color="#333333"/><stop offset="0.4357" stop-color="#3a3a3a"/><stop offset="0.4464" stop-color="#424242"/><stop offset="0.4571" stop-color="#484848"/><stop offset="0.4679" stop-color="#4e4e4e"/><stop offset="0.4786" stop-color="#525252"/><stop offset="0.4893" stop-color="#555555"/><stop offset="0.5000" stop-color="#565656"/><stop offset="0.5107" stop-color="#555555"/><stop offset="0.5214" stop-color="#525252"/><stop offset="0.5321" stop-color="#4e4e4e"/><stop offset="0.5429" stop-color="#484848"/><stop offset="0.5536" stop-color="#424242"/><stop offset="0.5643" stop-color="#3a3a3a"/><stop offset="0.5750" stop-color="#333333"/><stop offset="0.5857" stop-color="#2c2c2c"/><stop offset="0.6000" stop-color="#232323"/><stop offset="0.6143" stop-color="#1b1b1b"/><stop offset="0.6286" stop-color="#141414"/><stop offset="0.6429" stop-color="#0f0f0f"/><stop offset="0.6643" stop-color="#0a0a0a"/><stop offset="0.6857" stop-color="#060606"/><stop offset="0.7143" stop-color="#040404"/><stop offset="0.7500" stop-color="#020202"/><stop offset="0.8000" stop-color="#020202"/><stop offset="0.8929" stop-color="#010101"/><stop offset="1.0000" stop-color="#000000"/></linearGradient><linearGradient id="g26" gradientUnits="userSpaceOnUse" x1="383.4" x2="523.4" y1="0" y2="0"><stop offset="0.0000" stop-color="#000000"/><stop offset="0.1071" stop-color="#010101"/><stop offset="0.2000" stop-color="#020202"/><stop offset="0.2500" stop-color="#020202"/><stop offset="0.2857" stop-color="#040404"/><stop offset="0.3143" stop-color="#060606"/><stop offset="0.3357" stop-color="#090909"/><stop offset="0.3571" stop-color="#0f0f0f"/><stop offset="0.3714" stop-color="#141414"/><stop offset="0.3857" stop-color="#1b1b1b"/><stop offset="0.4000" stop-color="#232323"/><stop offset="0.4143" stop-color="#2c2c2c"/><stop offset="0.4250" stop-color="#343434"/><stop offset="0.4357" stop-color="#3c3c3c"/><stop offset="0.4464" stop-color="#434343"/><stop offset="0.4571" stop-color="#4a4a4a"/><stop offset="0.4679" stop-color="#505050"/><stop offset="0.4786" stop-color="#555555"/><stop offset="0.4893" stop-color="#585858"/><stop offset="0.5000" stop-color="#595959"/><stop offset="0.5107" stop-color="#585858"/><stop offset="0.5214" stop-color="#555555"/><stop offset="0.5321" stop-color="#505050"/><stop offset="0.5429" stop-color="#4a4a4a"/><stop offset="0.5536" stop-color="#434343"/><stop offset="0.5643" stop-color="#3c3c3c"/><stop offset="0.5750" stop-color="#343434"/><stop offset="0.5857" stop-color="#2c2c2c"/><stop offset="0.6000" stop-color="#232323"/><stop offset="0.6143" stop-color="#1b1b1b"/><stop offset="0.6286" stop-color="#141414"/><stop offset="0.6429" stop-color="#0f0f0f"/><stop offset="0.6643" stop-color="#090909"/><stop offset="0.6857" stop-color="#060606"/><stop offset="0.7143" stop-color="#040404"/><stop offset="0.7500" stop-color="#020202"/><stop offset="0.8000" stop-color="#020202"/><stop offset="0.8929" stop-color="#010101"/><stop offset="1.0000" stop-color="#000000"/></linearGradient><linearGradient id="g27" gradientUnits="userSpaceOnUse" x1="383.4" x2="523.4" y1="0" y2="0"><stop offset="0.0000" stop-color="#000000"/><stop offset="0.1071" stop-color="#010101"/><stop offset="0.2000" stop-color="#010101"/><stop offset="0.2500" stop-color="#020202"/><stop offset="0.2857" stop-color="#040404"/><stop offset="0.3143" stop-color="#060606"/><stop offset="0.3357" stop-color="#090909"/><stop offset="0.3571" stop-color="#0f0f0f"/><stop offset="0.3714" stop-color="#141414"/><stop offset="0.3857" stop-color="#1b1b1b"/><stop offset="0.4000" stop-color="#232323"/><stop offset="0.4143" stop-color="#2d2d2d"/><stop offset="0.4250" stop-color="#353535"/><stop offset="0.4357" stop-color="#3d3d3d"/><stop offset="0.4464" stop-color="#454545"/><stop offset="0.4571" stop-color="#4c4c4c"/><stop offset="0.4679" stop-color="#535353"/><stop offset="0.4786" stop-color="#575757"/><stop offset="0.4893" stop-color="#5a5a5a"/><stop offset="0.5000" stop-color="#5c5c5c"/><stop offset="0.5107" stop-color="#5a5a5a"/><stop offset="0.5214" stop-color="#575757"/><stop offset="0.5321" stop-color="#535353"/><stop offset="0.5429" stop-color="#4c4c4c"/><stop offset="0.5536" stop-color="#454545"/><stop offset="0.5643" stop-color="#3d3d3d"/><stop offset="0.5750" stop-color="#353535"/><stop offset="0.5857" stop-color="#2d2d2d"/><stop offset="0.6000" stop-color="#232323"/><stop offset="0.6143" stop-color="#1b1b1b"/><stop offset="0.6286" stop-color="#141414"/><stop offset="0.6429" stop-color="#0f0f0f"/><stop offset="0.6643" stop-color="#090909"/><stop offset="0.6857" stop-color="#060606"/><stop offset="0.7143" stop-color="#040404"/><stop offset="0.7500" stop-color="#020202"/><stop offset="0.8000" stop-color="#010101"/><stop offset="0.8929" stop-color="#010101"/><stop offset="1.0000" stop-color="#000000"/></linearGradient><linearGradient id="g28" gradientUnits="userSpaceOnUse" x1="383.4" x2="523.4" y1="0" y2="0"><stop offset="0.0000" stop-color="#000000"/><stop offset="0.1071" stop-color="#010101"/><stop offset="0.2000" stop-color="#010101"/><stop offset="0.2500" stop-color="#020202"/><stop offset="0.2857" stop-color="#040404"/><stop offset="0.3143" stop-color="#060606"/><stop offset="0.3357" stop-color="#090909"/><stop offset="0.3571" stop-color="#0e0e0e"/><stop offset="0.3714" stop-color="#141414"/><stop offset="0.3857" stop-color="#1b1b1b"/><stop offset="0.4000" stop-color="#232323"/><stop offset="0.4143" stop-color="#2e2e2e"/><stop offset="0.4250" stop-color="#363636"/><stop offset="0.4357" stop-color="#3e3e3e"/><stop offset="0.4464" stop-color="#474747"/><stop offset="0.4571" stop-color="#4e4e4e"/><stop offset="0.4679" stop-color="#555555"/><stop offset="0.4786" stop-color="#5a5a5a"/><stop offset="0.4893" stop-color="#5e5e5e"/><stop offset="0.5000" stop-color="#5f5f5f"/><stop offset="0.5107" stop-color="#5e5e5e"/><stop offset="0.5214" stop-color="#5a5a5a"/><stop offset="0.5321" stop-color="#555555"/><stop offset="0.5429" stop-color="#4e4e4e"/><stop offset="0.5536" stop-color="#474747"/><stop offset="0.5643" stop-color="#3e3e3e"/><stop offset="0.5750" stop-color="#363636"/><stop offset="0.5857" stop-color="#2e2e2e"/><stop offset="0.6000" stop-color="#232323"/><stop offset="0.6143" stop-color="#1b1b1b"/><stop offset="0.6286" stop-color="#141414"/><stop offset="0.6429" stop-color="#0e0e0e"/><stop offset="0.6643" stop-color="#090909"/><stop offset="0.6857" stop-color="#060606"/><stop offset="0.7143" stop-color="#040404"/><stop offset="0.7500" stop-color="#020202"/><stop offset="0.8000" stop-color="#010101"/><stop offset="0.8929" stop-color="#010101"/><stop offset="1.0000" stop-color="#000000"/></linearGradient><linearGradient id="g29" gradientUnits="userSpaceOnUse" x1="383.4" x2="523.4" y1="0" y2="0"><stop offset="0.0000" stop-color="#000000"/><stop offset="0.1071" stop-color="#010101"/><stop offset="0.2000" stop-color="#010101"/><stop offset="0.2500" stop-color="#020202"/><stop offset="0.2857" stop-color="#030303"/><stop offset="0.3143" stop-color="#060606"/><stop offset="0.3357" stop-color="#090909"/><stop offset="0.3571" stop-color="#0e0e0e"/><stop offset="0.3714" stop-color="#141414"/><stop offset="0.3857" stop-color="#1b1b1b"/><stop offset="0.4000" stop-color="#242424"/><stop offset="0.4143" stop-color="#2e2e2e"/><stop offset="0.4250" stop-color="#373737"/><stop offset="0.4357" stop-color="#404040"/><stop offset="0.4464" stop-color="#494949"/><stop offset="0.4571" stop-color="#515151"/><stop offset="0.4679" stop-color="#585858"/><stop offset="0.4786" stop-color="#5d5d5d"/><stop offset="0.4893" stop-color="#616161"/><stop offset="0.5000" stop-color="#626262"/><stop offset="0.5107" stop-color="#616161"/><stop offset="0.5214" stop-color="#5d5d5d"/><stop offset="0.5321" stop-color="#585858"/><stop offset="0.5429" stop-color="#515151"/><stop offset="0.5536" stop-color="#494949"/><stop offset="0.5643" stop-color="#404040"/><stop offset="0.5750" stop-color="#373737"/><stop offset="0.5857" stop-color="#2e2e2e"/><stop offset="0.6000" stop-color="#242424"/><stop offset="0.6143" stop-color="#1b1b1b"/><stop offset="0.6286" stop-color="#141414"/><stop offset="0.6429" stop-color="#0e0e0e"/><stop offset="0.6643" stop-color="#090909"/><stop offset="0.6857" stop-color="#060606"/><stop offset="0.7143" stop-color="#030303"/><stop offset="0.7500" stop-color="#020202"/><stop offset="0.8000" stop-color="#010101"/><stop offset="0.8929" stop-color="#010101"/><stop offset="1.0000" stop-color="#000000"/></linearGradient><linearGradient id="g30" gradientUnits="userSpaceOnUse" x1="383.4" x2="523.4" y1="0" y2="0"><stop offset="0.0000" stop-color="#000000"/><stop offset="0.1071" stop-color="#010101"/><stop offset="0.2000" stop-color="#010101"/><stop offset="0.2500" stop-color="#020202"/><stop offset="0.2857" stop-color="#030303"/><stop offset="0.3143" stop-color="#060606"/><stop offset="0.3357" stop-color="#090909"/><stop offset="0.3571" stop-color="#0e0e0e"/><stop offset="0.3714" stop-color="#141414"/><stop offset="0.3857" stop-color="#1b1b1b"/><stop offset="0.4000" stop-color="#242424"/><stop offset="0.4143" stop-color="#2f2f2f"/><stop offset="0.4250" stop-color="#383838"/><stop offset="0.4357" stop-color="#414141"/><stop offset="0.4464" stop-color="#4b4b4b"/><stop offset="0.4571" stop-color="#535353"/><stop offset="0.4679" stop-color="#5b5b5b"/><stop offset="0.4786" stop-color="#616161"/><stop offset="0.4893" stop-color="#646464"/><stop offset="0.5000" stop-color="#656565"/><stop offset="0.5107" stop-color="#646464"/><stop offset="0.5214" stop-color="#616161"/><stop offset="0.5321" stop-color="#5b5b5b"/><stop offset="0.5429" stop-color="#535353"/><stop offset="0.5536" stop-color="#4b4b4b"/><stop offset="0.5643" stop-color="#414141"/><stop offset="0.5750" stop-color="#383838"/><stop offset="0.5857" stop-color="#2f2f2f"/><stop offset="0.6000" stop-color="#242424"/><stop offset="0.6143" stop-color="#1b1b1b"/><stop offset="0.6286" stop-color="#141414"/><stop offset="0.6429" stop-color="#0e0e0e"/><stop offset="0.6643" stop-color="#090909"/><stop offset="0.6857" stop-color="#060606"/><stop offset="0.7143" stop-color="#030303"/><stop offset="0.7500" stop-color="#020202"/><stop offset="0.8000" stop-color="#010101"/><stop offset="0.8929" stop-color="#010101"/><stop offset="1.0000" stop-color="#000000"/></linearGradient><linearGradient id="g31" gradientUnits="userSpaceOnUse" x1="383.4" x2="523.4" y1="0" y2="0"><stop offset="0.0000" stop-color="#000000"/><stop offset="0.1071" stop-color="#010101"/><stop offset="0.2000" stop-color="#010101"/><stop offset="0.2500" stop-color="#020202"/><stop offset="0.2857" stop-color="#030303"/><stop offset="0.3143" stop-color="#050505"/><stop offset="0.3357" stop-color="#080808"/><stop offset="0.3571" stop-color="#0e0e0e"/><stop offset="0.3714" stop-color="#131313"/><stop offset="0.3857" stop-color="#1b1b1b"/><stop offset="0.4000" stop-color="#242424"/><stop offset="0.4143" stop-color="#2f2f2f"/><stop offset="0.4250" stop-color="#393939"/><stop offset="0.4357" stop-color="#434343"/><stop offset="0.4464" stop-color="#4d4d4d"/><stop offset="0.4571" stop-color="#565656"/><stop offset="0.4679" stop-color="#5e5e5e"/><stop offset="0.4786" stop-color="#646464"/><stop offset="0.4893" stop-color="#686868"/><stop offset="0.5000" stop-color="#696969"/><stop offset="0.5107" stop-color="#686868"/><stop offset="0.5214" stop-color="#646464"/><stop offset="0.5321" stop-color="#5e5e5e"/><stop offset="0.5429" stop-color="#565656"/><stop offset="0.5536" stop-color="#4d4d4d"/><stop offset="0.5643" stop-color="#434343"/><stop offset="0.5750" stop-color="#393939"/><stop offset="0.5857" stop-color="#2f2f2f"/><stop offset="0.6000" stop-color="#242424"/><stop offset="0.6143" stop-color="#1b1b1b"/><stop offset="0.6286" stop-color="#131313"/><stop offset="0.6429" stop-color="#0e0e0e"/><stop offset="0.6643" stop-color="#080808"/><stop offset="0.6857" stop-color="#050505"/><stop offset="0.7143" stop-color="#030303"/><stop offset="0.7500" stop-color="#020202"/><stop offset="0.8000" stop-color="#010101"/><stop offset="0.8929" stop-color="#010101"/><stop offset="1.0000" stop-color="#000000"/></linearGradient><linearGradient id="g32" gradientUnits="userSpaceOnUse" x1="383.4" x2="523.4" y1="0" y2="0"><stop offset="0.0000" stop-color="#000000"/><stop offset="0.1071" stop-color="#010101"/><stop offset="0.2000" stop-color="#010101"/><stop offset="0.2500" stop-color="#020202"/><stop offset="0.2857" stop-color="#030303"/><stop offset="0.3143" stop-color="#050505"/><stop offset="0.3357" stop-color="#080808"/><stop offset="0.3571" stop-color="#0e0e0e"/><stop offset="0.3714" stop-color="#131313"/><stop offset="0.3857" stop-color="#1b1b1b"/><stop offset="0.4000" stop-color="#242424"/><stop offset="0.4143" stop-color="#303030"/><stop offset="0.4250" stop-color="#3a3a3a"/><stop offset="0.4357" stop-color="#444444"/><stop offset="0.4464" stop-color="#4f4f4f"/><stop offset="0.4571" stop-color="#585858"/><stop offset="0.4679" stop-color="#616161"/><stop offset="0.4786" stop-color="#676767"/><stop offset="0.4893" stop-color="#6c6c6c"/><stop offset="0.5000" stop-color="#6d6d6d"/><stop offset="0.5107" stop-color="#6c6c6c"/><stop offset="0.5214" stop-color="#676767"/><stop offset="0.5321" stop-color="#616161"/><stop offset="0.5429" stop-color="#585858"/><stop offset="0.5536" stop-color="#4f4f4f"/><stop offset="0.5643" stop-color="#444444"/><stop offset="0.5750" stop-color="#3a3a3a"/><stop offset="0.5857" stop-color="#303030"/><stop offset="0.6000" stop-color="#242424"/><stop offset="0.6143" stop-color="#1b1b1b"/><stop offset="0.6286" stop-color="#131313"/><stop offset="0.6429" stop-color="#0e0e0e"/><stop offset="0.6643" stop-color="#080808"/><stop offset="0.6857" stop-color="#050505"/><stop offset="0.7143" stop-color="#030303"/><stop offset="0.7500" stop-color="#020202"/><stop offset="0.8000" stop-color="#010101"/><stop offset="0.8929" stop-color="#010101"/><stop offset="1.0000" stop-color="#000000"/></linearGradient><linearGradient id="g33" gradientUnits="userSpaceOnUse" x1="383.4" x2="523.4" y1="0" y2="0"><stop offset="0.0000" stop-color="#000000"/><stop offset="0.1071" stop-color="#010101"/><stop offset="0.2000" stop-color="#010101"/><stop offset="0.2500" stop-color="#020202"/><stop offset="0.2857" stop-color="#030303"/><stop offset="0.3143" stop-color="#050505"/><stop offset="0.3357" stop-color="#080808"/><stop offset="0.3571" stop-color="#0d0d0d"/><stop offset="0.3714" stop-color="#131313"/><stop offset="0.3857" stop-color="#1b1b1b"/><stop offset="0.4000" stop-color="#252525"/><stop offset="0.4143" stop-color="#313131"/><stop offset="0.4250" stop-color="#3b3b3b"/><stop offset="0.4357" stop-color="#464646"/><stop offset="0.4464" stop-color="#515151"/><stop offset="0.4571" stop-color="#5b5b5b"/><stop offset="0.4679" stop-color="#646464"/><stop offset="0.4786" stop-color="#6b6b6b"/><stop offset="0.4893" stop-color="#707070"/><stop offset="0.5000" stop-color="#717171"/><stop offset="0.5107" stop-color="#707070"/><stop offset="0.5214" stop-color="#6b6b6b"/><stop offset="0.5321" stop-color="#646464"/><stop offset="0.5429" stop-color="#5b5b5b"/><stop offset="0.5536" stop-color="#515151"/><stop offset="0.5643" stop-color="#464646"/><stop offset="0.5750" stop-color="#3b3b3b"/><stop offset="0.5857" stop-color="#313131"/><stop offset="0.6000" stop-color="#252525"/><stop offset="0.6143" stop-color="#1b1b1b"/><stop offset="0.6286" stop-color="#131313"/><stop offset="0.6429" stop-color="#0d0d0d"/><stop offset="0.6643" stop-color="#080808"/><stop offset="0.6857" stop-color="#050505"/><stop offset="0.7143" stop-color="#030303"/><stop offset="0.7500" stop-color="#020202"/><stop offset="0.8000" stop-color="#010101"/><stop offset="0.8929" stop-color="#010101"/><stop offset="1.0000" stop-color="#000000"/></linearGradient><linearGradient id="g34" gradientUnits="userSpaceOnUse" x1="383.4" x2="523.4" y1="0" y2="0"><stop offset="0.0000" stop-color="#000000"/><stop offset="0.1071" stop-color="#010101"/><stop offset="0.2000" stop-color="#010101"/><stop offset="0.2500" stop-color="#020202"/><stop offset="0.2857" stop-color="#030303"/><stop offset="0.3143" stop-color="#050505"/><stop offset="0.3357" stop-color="#080808"/><stop offset="0.3571" stop-color="#0d0d0d"/><stop offset="0.3714" stop-color="#131313"/><stop offset="0.3857" stop-color="#1a1a1a"/><stop offset="0.4000" stop-color="#252525"/><stop offset="0.4143" stop-color="#313131"/><stop offset="0.4250" stop-color="#3c3c3c"/><stop offset="0.4357" stop-color="#484848"/><stop offset="0.4464" stop-color="#535353"/><stop offset="0.4571" stop-color="#5e5e5e"/><stop offset="0.4679" stop-color="#686868"/><stop offset="0.4786" stop-color="#6f6f6f"/><stop offset="0.4893" stop-color="#747474"/><stop offset="0.5000" stop-color="#757575"/><stop offset="0.5107" stop-color="#747474"/><stop offset="0.5214" stop-color="#6f6f6f"/><stop offset="0.5321" stop-color="#686868"/><stop offset="0.5429" stop-color="#5e5e5e"/><stop offset="0.5536" stop-color="#535353"/><stop offset="0.5643" stop-color="#484848"/><stop offset="0.5750" stop-color="#3c3c3c"/><stop offset="0.5857" stop-color="#313131"/><stop offset="0.6000" stop-color="#252525"/><stop offset="0.6143" stop-color="#1a1a1a"/><stop offset="0.6286" stop-color="#131313"/><stop offset="0.6429" stop-color="#0d0d0d"/><stop offset="0.6643" stop-color="#080808"/><stop offset="0.6857" stop-color="#050505"/><stop offset="0.7143" stop-color="#030303"/><stop offset="0.7500" stop-color="#020202"/><stop offset="0.8000" stop-color="#010101"/><stop offset="0.8929" stop-color="#010101"/><stop offset="1.0000" stop-color="#000000"/></linearGradient><linearGradient id="g35" gradientUnits="userSpaceOnUse" x1="383.4" x2="523.4" y1="0" y2="0"><stop offset="0.0000" stop-color="#000000"/><stop offset="0.1071" stop-color="#010101"/><stop offset="0.2000" stop-color="#010101"/><stop offset="0.2500" stop-color="#020202"/><stop offset="0.2857" stop-color="#030303"/><stop offset="0.3143" stop-color="#050505"/><stop offset="0.3357" stop-color="#080808"/><stop offset="0.3571" stop-color="#0d0d0d"/><stop offset="0.3714" stop-color="#121212"/><stop offset="0.3857" stop-color="#1a1a1a"/><stop offset="0.4000" stop-color="#252525"/><stop offset="0.4143" stop-color="#323232"/><stop offset="0.4250" stop-color="#3d3d3d"/><stop offset="0.4357" stop-color="#494949"/><stop offset="0.4464" stop-color="#555555"/><stop offset="0.4571" stop-color="#616161"/><stop offset="0.4679" stop-color="#6b6b6b"/><stop offset="0.4786" stop-color="#737373"/><stop offset="0.4893" stop-color="#787878"/><stop offset="0.5000" stop-color="#7a7a7a"/><stop offset="0.5107" stop-color="#787878"/><stop offset="0.5214" stop-color="#737373"/><stop offset="0.5321" stop-color="#6b6b6b"/><stop offset="0.5429" stop-color="#616161"/><stop offset="0.5536" stop-color="#555555"/><stop offset="0.5643" stop-color="#494949"/><stop offset="0.5750" stop-color="#3d3d3d"/><stop offset="0.5857" stop-color="#323232"/><stop offset="0.6000" stop-color="#252525"/><stop offset="0.6143" stop-color="#1a1a1a"/><stop offset="0.6286" stop-color="#121212"/><stop offset="0.6429" stop-color="#0d0d0d"/><stop offset="0.6643" stop-color="#080808"/><stop offset="0.6857" stop-color="#050505"/><stop offset="0.7143" stop-color="#030303"/><stop offset="0.7500" stop-color="#020202"/><stop offset="0.8000" stop-color="#010101"/><stop offset="0.8929" stop-color="#010101"/><stop offset="1.0000" stop-color="#000000"/></linearGradient><linearGradient id="g36" gradientUnits="userSpaceOnUse" x1="383.4" x2="523.4" y1="0" y2="0"><stop offset="0.0000" stop-color="#000000"/><stop offset="0.1071" stop-color="#010101"/><stop offset="0.2000" stop-color="#010101"/><stop offset="0.2500" stop-color="#020202"/><stop offset="0.2857" stop-color="#030303"/><stop offset="0.3143" stop-color="#050505"/><stop offset="0.3357" stop-color="#070707"/><stop offset="0.3571" stop-color="#0c0c0c"/><stop offset="0.3714" stop-color="#121212"/><stop offset="0.3857" stop-color="#1a1a1a"/><stop offset="0.4000" stop-color="#252525"/><stop offset="0.4143" stop-color="#333333"/><stop offset="0.4250" stop-color="#3e3e3e"/><stop offset="0.4357" stop-color="#4b4b4b"/><stop offset="0.4464" stop-color="#585858"/><stop offset="0.4571" stop-color="#646464"/><stop offset="0.4679" stop-color="#6f6f6f"/><stop offset="0.4786" stop-color="#787878"/><stop offset="0.4893" stop-color="#7d7d7d"/><stop offset="0.5000" stop-color="#7f7f7f"/><stop offset="0.5107" stop-color="#7d7d7d"/><stop offset="0.5214" stop-color="#787878"/><stop offset="0.5321" stop-color="#6f6f6f"/><stop offset="0.5429" stop-color="#646464"/><stop offset="0.5536" stop-color="#585858"/><stop offset="0.5643" stop-color="#4b4b4b"/><stop offset="0.5750" stop-color="#3e3e3e"/><stop offset="0.5857" stop-color="#333333"/><stop offset="0.6000" stop-color="#252525"/><stop offset="0.6143" stop-color="#1a1a1a"/><stop offset="0.6286" stop-color="#121212"/><stop offset="0.6429" stop-color="#0c0c0c"/><stop offset="0.6643" stop-color="#070707"/><stop offset="0.6857" stop-color="#050505"/><stop offset="0.7143" stop-color="#030303"/><stop offset="0.7500" stop-color="#020202"/><stop offset="0.8000" stop-color="#010101"/><stop offset="0.8929" stop-color="#010101"/><stop offset="1.0000" stop-color="#000000"/></linearGradient><linearGradient id="g37" gradientUnits="userSpaceOnUse" x1="383.4" x2="523.4" y1="0" y2="0"><stop offset="0.0000" stop-color="#000000"/><stop offset="0.1071" stop-color="#010101"/><stop offset="0.2000" stop-color="#010101"/><stop offset="0.2500" stop-color="#020202"/><stop offset="0.2857" stop-color="#030303"/><stop offset="0.3143" stop-color="#040404"/><stop offset="0.3357" stop-color="#070707"/><stop offset="0.3571" stop-color="#0c0c0c"/><stop offset="0.3714" stop-color="#121212"/><stop offset="0.3857" stop-color="#1a1a1a"/><stop offset="0.4000" stop-color="#252525"/><stop offset="0.4143" stop-color="#333333"/><stop offset="0.4250" stop-color="#404040"/><stop offset="0.4357" stop-color="#4d4d4d"/><stop offset="0.4464" stop-color="#5a5a5a"/><stop offset="0.4571" stop-color="#686868"/><stop offset="0.4679" stop-color="#737373"/><stop offset="0.4786" stop-color="#7c7c7c"/><stop offset="0.4893" stop-color="#828282"/><stop offset="0.5000" stop-color="#848484"/><stop offset="0.5107" stop-color="#828282"/><stop offset="0.5214" stop-color="#7c7c7c"/><stop offset="0.5321" stop-color="#737373"/><stop offset="0.5429" stop-color="#686868"/><stop offset="0.5536" stop-color="#5a5a5a"/><stop offset="0.5643" stop-color="#4d4d4d"/><stop offset="0.5750" stop-color="#404040"/><stop offset="0.5857" stop-color="#333333"/><stop offset="0.6000" stop-color="#252525"/><stop offset="0.6143" stop-color="#1a1a1a"/><stop offset="0.6286" stop-color="#121212"/><stop offset="0.6429" stop-color="#0c0c0c"/><stop offset="0.6643" stop-color="#070707"/><stop offset="0.6857" stop-color="#040404"/><stop offset="0.7143" stop-color="#030303"/><stop offset="0.7500" stop-color="#020202"/><stop offset="0.8000" stop-color="#010101"/><stop offset="0.8929" stop-color="#010101"/><stop offset="1.0000" stop-color="#000000"/></linearGradient><linearGradient id="g38" gradientUnits="userSpaceOnUse" x1="383.4" x2="523.4" y1="0" y2="0"><stop offset="0.0000" stop-color="#000000"/><stop offset="0.1071" stop-color="#010101"/><stop offset="0.2000" stop-color="#010101"/><stop offset="0.2500" stop-color="#020202"/><stop offset="0.2857" stop-color="#030303"/><stop offset="0.3143" stop-color="#040404"/><stop offset="0.3357" stop-color="#070707"/><stop offset="0.3571" stop-color="#0c0c0c"/><stop offset="0.3714" stop-color="#121212"/><stop offset="0.3857" stop-color="#1a1a1a"/><stop offset="0.4000" stop-color="#252525"/><stop offset="0.4143" stop-color="#343434"/><stop offset="0.4250" stop-color="#414141"/><stop offset="0.4357" stop-color="#4f4f4f"/><stop offset="0.4464" stop-color="#5d5d5d"/><stop offset="0.4571" stop-color="#6b6b6b"/><stop offset="0.4679" stop-color="#777777"/><stop offset="0.4786" stop-color="#818181"/><stop offset="0.4893" stop-color="#878787"/><stop offset="0.5000" stop-color="#8a8a8a"/><stop offset="0.5107" stop-color="#878787"/><stop offset="0.5214" stop-color="#818181"/><stop offset="0.5321" stop-color="#777777"/><stop offset="0.5429" stop-color="#6b6b6b"/><stop offset="0.5536" stop-color="#5d5d5d"/><stop offset="0.5643" stop-color="#4f4f4f"/><stop offset="0.5750" stop-color="#414141"/><stop offset="0.5857" stop-color="#343434"/><stop offset="0.6000" stop-color="#252525"/><stop offset="0.6143" stop-color="#1a1a1a"/><stop offset="0.6286" stop-color="#121212"/><stop offset="0.6429" stop-color="#0c0c0c"/><stop offset="0.6643" stop-color="#070707"/><stop offset="0.6857" stop-color="#040404"/><stop offset="0.7143" stop-color="#030303"/><stop offset="0.7500" stop-color="#020202"/><stop offset="0.8000" stop-color="#010101"/><stop offset="0.8929" stop-color="#010101"/><stop offset="1.0000" stop-color="#000000"/></linearGradient><linearGradient id="g39" gradientUnits="userSpaceOnUse" x1="383.4" x2="523.4" y1="0" y2="0"><stop offset="0.0000" stop-color="#000000"/><stop offset="0.1071" stop-color="#010101"/><stop offset="0.2000" stop-color="#010101"/><stop offset="0.2500" stop-color="#020202"/><stop offset="0.2857" stop-color="#030303"/><stop offset="0.3143" stop-color="#040404"/><stop offset="0.3357" stop-color="#070707"/><stop offset="0.3571" stop-color="#0c0c0c"/><stop offset="0.3714" stop-color="#111111"/><stop offset="0.3857" stop-color="#1a1a1a"/><stop offset="0.4000" stop-color="#252525"/><stop offset="0.4143" stop-color="#343434"/><stop offset="0.4250" stop-color="#424242"/><stop offset="0.4357" stop-color="#515151"/><stop offset="0.4464" stop-color="#606060"/><stop offset="0.4571" stop-color="#6f6f6f"/><stop offset="0.4679" stop-color="#7c7c7c"/><stop offset="0.4786" stop-color="#868686"/><stop offset="0.4893" stop-color="#8d8d8d"/><stop offset="0.5000" stop-color="#8f8f8f"/><stop offset="0.5107" stop-color="#8d8d8d"/><stop offset="0.5214" stop-color="#868686"/><stop offset="0.5321" stop-color="#7c7c7c"/><stop offset="0.5429" stop-color="#6f6f6f"/><stop offset="0.5536" stop-color="#606060"/><stop offset="0.5643" stop-color="#515151"/><stop offset="0.5750" stop-color="#424242"/><stop offset="0.5857" stop-color="#343434"/><stop offset="0.6000" stop-color="#252525"/><stop offset="0.6143" stop-color="#1a1a1a"/><stop offset="0.6286" stop-color="#111111"/><stop offset="0.6429" stop-color="#0c0c0c"/><stop offset="0.6643" stop-color="#070707"/><stop offset="0.6857" stop-color="#040404"/><stop offset="0.7143" stop-color="#030303"/><stop offset="0.7500" stop-color="#020202"/><stop offset="0.8000" stop-color="#010101"/><stop offset="0.8929" stop-color="#010101"/><stop offset="1.0000" stop-color="#000000"/></linearGradient><linearGradient id="g40" gradientUnits="userSpaceOnUse" x1="383.4" x2="523.4" y1="0" y2="0"><stop offset="0.0000" stop-color="#000000"/><stop offset="0.1071" stop-color="#010101"/><stop offset="0.2000" stop-color="#010101"/><stop offset="0.2500" stop-color="#020202"/><stop offset="0.2857" stop-color="#030303"/><stop offset="0.3143" stop-color="#040404"/><stop offset="0.3357" stop-color="#060606"/><stop offset="0.3571" stop-color="#0b0b0b"/><stop offset="0.3714" stop-color="#111111"/><stop offset="0.3857" stop-color="#191919"/><stop offset="0.4000" stop-color="#252525"/><stop offset="0.4143" stop-color="#353535"/><stop offset="0.4250" stop-color="#434343"/><stop offset="0.4357" stop-color="#525252"/><stop offset="0.4464" stop-color="#636363"/><stop offset="0.4571" stop-color="#737373"/><stop offset="0.4679" stop-color="#818181"/><stop offset="0.4786" stop-color="#8c8c8c"/><stop offset="0.4893" stop-color="#939393"/><stop offset="0.5000" stop-color="#969696"/><stop offset="0.5107" stop-color="#939393"/><stop offset="0.5214" stop-color="#8c8c8c"/><stop offset="0.5321" stop-color="#818181"/><stop offset="0.5429" stop-color="#737373"/><stop offset="0.5536" stop-color="#636363"/><stop offset="0.5643" stop-color="#525252"/><stop offset="0.5750" stop-color="#434343"/><stop offset="0.5857" stop-color="#353535"/><stop offset="0.6000" stop-color="#252525"/><stop offset="0.6143" stop-color="#191919"/><stop offset="0.6286" stop-color="#111111"/><stop offset="0.6429" stop-color="#0b0b0b"/><stop offset="0.6643" stop-color="#060606"/><stop offset="0.6857" stop-color="#040404"/><stop offset="0.7143" stop-color="#030303"/><stop offset="0.7500" stop-color="#020202"/><stop offset="0.8000" stop-color="#010101"/><stop offset="0.8929" stop-color="#010101"/><stop offset="1.0000" stop-color="#000000"/></linearGradient><linearGradient id="g41" gradientUnits="userSpaceOnUse" x1="383.4" x2="523.4" y1="0" y2="0"><stop offset="0.0000" stop-color="#000000"/><stop offset="0.1071" stop-color="#010101"/><stop offset="0.2000" stop-color="#010101"/><stop offset="0.2500" stop-color="#020202"/><stop offset="0.2857" stop-color="#030303"/><stop offset="0.3143" stop-color="#040404"/><stop offset="0.3357" stop-color="#060606"/><stop offset="0.3571" stop-color="#0b0b0b"/><stop offset="0.3714" stop-color="#101010"/><stop offset="0.3857" stop-color="#191919"/><stop offset="0.4000" stop-color="#252525"/><stop offset="0.4143" stop-color="#353535"/><stop offset="0.4250" stop-color="#444444"/><stop offset="0.4357" stop-color="#545454"/><stop offset="0.4464" stop-color="#666666"/><stop offset="0.4571" stop-color="#777777"/><stop offset="0.4679" stop-color="#868686"/><stop offset="0.4786" stop-color="#929292"/><stop offset="0.4893" stop-color="#9a9a9a"/><stop offset="0.5000" stop-color="#9c9c9c"/><stop offset="0.5107" stop-color="#9a9a9a"/><stop offset="0.5214" stop-color="#929292"/><stop offset="0.5321" stop-color="#868686"/><stop offset="0.5429" stop-color="#777777"/><stop offset="0.5536" stop-color="#666666"/><stop offset="0.5643" stop-color="#545454"/><stop offset="0.5750" stop-color="#444444"/><stop offset="0.5857" stop-color="#353535"/><stop offset="0.6000" stop-color="#252525"/><stop offset="0.6143" stop-color="#191919"/><stop offset="0.6286" stop-color="#101010"/><stop offset="0.6429" stop-color="#0b0b0b"/><stop offset="0.6643" stop-color="#060606"/><stop offset="0.6857" stop-color="#040404"/><stop offset="0.7143" stop-color="#030303"/><stop offset="0.7500" stop-color="#020202"/><stop offset="0.8000" stop-color="#010101"/><stop offset="0.8929" stop-color="#010101"/><stop offset="1.0000" stop-color="#000000"/></linearGradient><linearGradient id="g42" gradientUnits="userSpaceOnUse" x1="383.4" x2="523.4" y1="0" y2="0"><stop offset="0.0000" stop-color="#000000"/><stop offset="0.1071" stop-color="#000000"/><stop offset="0.2000" stop-color="#010101"/><stop offset="0.2500" stop-color="#020202"/><stop offset="0.2857" stop-color="#020202"/><stop offset="0.3143" stop-color="#040404"/><stop offset="0.3357" stop-color="#060606"/><stop offset="0.3571" stop-color="#0b0b0b"/><stop offset="0.3714" stop-color="#101010"/><stop offset="0.3857" stop-color="#191919"/><stop offset="0.4000" stop-color="#252525"/><stop offset="0.4143" stop-color="#363636"/><stop offset="0.4250" stop-color="#454545"/><stop offset="0.4357" stop-color="#565656"/><stop offset="0.4464" stop-color="#696969"/><stop offset="0.4571" stop-color="#7b7b7b"/><stop offset="0.4679" stop-color="#8b8b8b"/><stop offset="0.4786" stop-color="#989898"/><stop offset="0.4893" stop-color="#a1a1a1"/><stop offset="0.5000" stop-color="#a3a3a3"/><stop offset="0.5107" stop-color="#a1a1a1"/><stop offset="0.5214" stop-color="#989898"/><stop offset="0.5321" stop-color="#8b8b8b"/><stop offset="0.5429" stop-color="#7b7b7b"/><stop offset="0.5536" stop-color="#696969"/><stop offset="0.5643" stop-color="#565656"/><stop offset="0.5750" stop-color="#454545"/><stop offset="0.5857" stop-color="#363636"/><stop offset="0.6000" stop-color="#252525"/><stop offset="0.6143" stop-color="#191919"/><stop offset="0.6286" stop-color="#101010"/><stop offset="0.6429" stop-color="#0b0b0b"/><stop offset="0.6643" stop-color="#060606"/><stop offset="0.6857" stop-color="#040404"/><stop offset="0.7143" stop-color="#020202"/><stop offset="0.7500" stop-color="#020202"/><stop offset="0.8000" stop-color="#010101"/><stop offset="0.8929" stop-color="#000000"/><stop offset="1.0000" stop-color="#000000"/></linearGradient><linearGradient id="g43" gradientUnits="userSpaceOnUse" x1="383.4" x2="523.4" y1="0" y2="0"><stop offset="0.0000" stop-color="#000000"/><stop offset="0.1071" stop-color="#000000"/><stop offset="0.2000" stop-color="#010101"/><stop offset="0.2500" stop-color="#020202"/><stop offset="0.2857" stop-color="#020202"/><stop offset="0.3143" stop-color="#040404"/><stop offset="0.3357" stop-color="#060606"/><stop offset="0.3571" stop-color="#0a0a0a"/><stop offset="0.3714" stop-color="#101010"/><stop offset="0.3857" stop-color="#181818"/><stop offset="0.4000" stop-color="#252525"/><stop offset="0.4143" stop-color="#363636"/><stop offset="0.4250" stop-color="#464646"/><stop offset="0.4357" stop-color="#595959"/><stop offset="0.4464" stop-color="#6c6c6c"/><stop offset="0.4571" stop-color="#7f7f7f"/><stop offset="0.4679" stop-color="#919191"/><stop offset="0.4786" stop-color="#9f9f9f"/><stop offset="0.4893" stop-color="#a8a8a8"/><stop offset="0.5000" stop-color="#ababab"/><stop offset="0.5107" stop-color="#a8a8a8"/><stop offset="0.5214" stop-color="#9f9f9f"/><stop offset="0.5321" stop-color="#919191"/><stop offset="0.5429" stop-color="#7f7f7f"/><stop offset="0.5536" stop-color="#6c6c6c"/><stop offset="0.5643" stop-color="#595959"/><stop offset="0.5750" stop-color="#464646"/><stop offset="0.5857" stop-color="#363636"/><stop offset="0.6000" stop-color="#252525"/><stop offset="0.6143" stop-color="#181818"/><stop offset="0.6286" stop-color="#101010"/><stop offset="0.6429" stop-color="#0a0a0a"/><stop offset="0.6643" stop-color="#060606"/><stop offset="0.6857" stop-color="#040404"/><stop offset="0.7143" stop-color="#020202"/><stop offset="0.7500" stop-color="#020202"/><stop offset="0.8000" stop-color="#010101"/><stop offset="0.8929" stop-color="#000000"/><stop offset="1.0000" stop-color="#000000"/></linearGradient><linearGradient id="g44" gradientUnits="userSpaceOnUse" x1="383.4" x2="523.4" y1="0" y2="0"><stop offset="0.0000" stop-color="#000000"/><stop offset="0.1071" stop-color="#000000"/><stop offset="0.2000" stop-color="#010101"/><stop offset="0.2500" stop-color="#020202"/><stop offset="0.2857" stop-color="#020202"/><stop offset="0.3143" stop-color="#040404"/><stop offset="0.3357" stop-color="#050505"/><stop offset="0.3571" stop-color="#0a0a0a"/><stop offset="0.3714" stop-color="#0f0f0f"/><stop offset="0.3857" stop-color="#181818"/><stop offset="0.4000" stop-color="#252525"/><stop offset="0.4143" stop-color="#373737"/><stop offset="0.4250" stop-color="#474747"/><stop offset="0.4357" stop-color="#5b5b5b"/><stop offset="0.4464" stop-color="#6f6f6f"/><stop offset="0.4571" stop-color="#848484"/><stop offset="0.4679" stop-color="#979797"/><stop offset="0.4786" stop-color="#a6a6a6"/><stop offset="0.4893" stop-color="#b0b0b0"/><stop offset="0.5000" stop-color="#b3b3b3"/><stop offset="0.5107" stop-color="#b0b0b0"/><stop offset="0.5214" stop-color="#a6a6a6"/><stop offset="0.5321" stop-color="#979797"/><stop offset="0.5429" stop-color="#848484"/><stop offset="0.5536" stop-color="#6f6f6f"/><stop offset="0.5643" stop-color="#5b5b5b"/><stop offset="0.5750" stop-color="#474747"/><stop offset="0.5857" stop-color="#373737"/><stop offset="0.6000" stop-color="#252525"/><stop offset="0.6143" stop-color="#181818"/><stop offset="0.6286" stop-color="#0f0f0f"/><stop offset="0.6429" stop-color="#0a0a0a"/><stop offset="0.6643" stop-color="#050505"/><stop offset="0.6857" stop-color="#040404"/><stop offset="0.7143" stop-color="#020202"/><stop offset="0.7500" stop-color="#020202"/><stop offset="0.8000" stop-color="#010101"/><stop offset="0.8929" stop-color="#000000"/><stop offset="1.0000" stop-color="#000000"/></linearGradient><linearGradient id="g45" gradientUnits="userSpaceOnUse" x1="383.4" x2="523.4" y1="0" y2="0"><stop offset="0.0000" stop-color="#000000"/><stop offset="0.1071" stop-color="#000000"/><stop offset="0.2000" stop-color="#010101"/><stop offset="0.2500" stop-color="#020202"/><stop offset="0.2857" stop-color="#020202"/><stop offset="0.3143" stop-color="#030303"/><stop offset="0.3357" stop-color="#050505"/><stop offset="0.3571" stop-color="#090909"/><stop offset="0.3714" stop-color="#0f0f0f"/><stop offset="0.3857" stop-color="#171717"/><stop offset="0.4000" stop-color="#242424"/><stop offset="0.4143" stop-color="#373737"/><stop offset="0.4250" stop-color="#494949"/><stop offset="0.4357" stop-color="#5d5d5d"/><stop offset="0.4464" stop-color="#737373"/><stop offset="0.4571" stop-color="#898989"/><stop offset="0.4679" stop-color="#9d9d9d"/><stop offset="0.4786" stop-color="#adadad"/><stop offset="0.4893" stop-color="#b8b8b8"/><stop offset="0.5000" stop-color="#bcbcbc"/><stop offset="0.5107" stop-color="#b8b8b8"/><stop offset="0.5214" stop-color="#adadad"/><stop offset="0.5321" stop-color="#9d9d9d"/><stop offset="0.5429" stop-color="#898989"/><stop offset="0.5536" stop-color="#737373"/><stop offset="0.5643" stop-color="#5d5d5d"/><stop offset="0.5750" stop-color="#494949"/><stop offset="0.5857" stop-color="#373737"/><stop offset="0.6000" stop-color="#242424"/><stop offset="0.6143" stop-color="#171717"/><stop offset="0.6286" stop-color="#0f0f0f"/><stop offset="0.6429" stop-color="#090909"/><stop offset="0.6643" stop-color="#050505"/><stop offset="0.6857" stop-color="#030303"/><stop offset="0.7143" stop-color="#020202"/><stop offset="0.7500" stop-color="#020202"/><stop offset="0.8000" stop-color="#010101"/><stop offset="0.8929" stop-color="#000000"/><stop offset="1.0000" stop-color="#000000"/></linearGradient><linearGradient id="g46" gradientUnits="userSpaceOnUse" x1="383.4" x2="523.4" y1="0" y2="0"><stop offset="0.0000" stop-color="#000000"/><stop offset="0.1071" stop-color="#000000"/><stop offset="0.2000" stop-color="#010101"/><stop offset="0.2500" stop-color="#010101"/><stop offset="0.2857" stop-color="#020202"/><stop offset="0.3143" stop-color="#030303"/><stop offset="0.3357" stop-color="#050505"/><stop offset="0.3571" stop-color="#090909"/><stop offset="0.3714" stop-color="#0e0e0e"/><stop offset="0.3857" stop-color="#171717"/><stop offset="0.4000" stop-color="#242424"/><stop offset="0.4143" stop-color="#373737"/><stop offset="0.4250" stop-color="#4a4a4a"/><stop offset="0.4357" stop-color="#5f5f5f"/><stop offset="0.4464" stop-color="#767676"/><stop offset="0.4571" stop-color="#8e8e8e"/><stop offset="0.4679" stop-color="#a4a4a4"/><stop offset="0.4786" stop-color="#b6b6b6"/><stop offset="0.4893" stop-color="#c1c1c1"/><stop offset="0.5000" stop-color="#c5c5c5"/><stop offset="0.5107" stop-color="#c1c1c1"/><stop offset="0.5214" stop-color="#b6b6b6"/><stop offset="0.5321" stop-color="#a4a4a4"/><stop offset="0.5429" stop-color="#8e8e8e"/><stop offset="0.5536" stop-color="#767676"/><stop offset="0.5643" stop-color="#5f5f5f"/><stop offset="0.5750" stop-color="#4a4a4a"/><stop offset="0.5857" stop-color="#373737"/><stop offset="0.6000" stop-color="#242424"/><stop offset="0.6143" stop-color="#171717"/><stop offset="0.6286" stop-color="#0e0e0e"/><stop offset="0.6429" stop-color="#090909"/><stop offset="0.6643" stop-color="#050505"/><stop offset="0.6857" stop-color="#030303"/><stop offset="0.7143" stop-color="#020202"/><stop offset="0.7500" stop-color="#010101"/><stop offset="0.8000" stop-color="#010101"/><stop offset="0.8929" stop-color="#000000"/><stop offset="1.0000" stop-color="#000000"/></linearGradient><linearGradient id="g47" gradientUnits="userSpaceOnUse" x1="383.4" x2="523.4" y1="0" y2="0"><stop offset="0.0000" stop-color="#000000"/><stop offset="0.1071" stop-color="#000000"/><stop offset="0.2000" stop-color="#010101"/><stop offset="0.2500" stop-color="#010101"/><stop offset="0.2857" stop-color="#020202"/><stop offset="0.3143" stop-color="#030303"/><stop offset="0.3357" stop-color="#050505"/><stop offset="0.3571" stop-color="#090909"/><stop offset="0.3714" stop-color="#0e0e0e"/><stop offset="0.3857" stop-color="#161616"/><stop offset="0.4000" stop-color="#242424"/><stop offset="0.4143" stop-color="#383838"/><stop offset="0.4250" stop-color="#4b4b4b"/><stop offset="0.4357" stop-color="#616161"/><stop offset="0.4464" stop-color="#7a7a7a"/><stop offset="0.4571" stop-color="#939393"/><stop offset="0.4679" stop-color="#ababab"/><stop offset="0.4786" stop-color="#bebebe"/><stop offset="0.4893" stop-color="#cbcbcb"/><stop offset="0.5000" stop-color="#cfcfcf"/><stop offset="0.5107" stop-color="#cbcbcb"/><stop offset="0.5214" stop-color="#bebebe"/><stop offset="0.5321" stop-color="#ababab"/><stop offset="0.5429" stop-color="#939393"/><stop offset="0.5536" stop-color="#7a7a7a"/><stop offset="0.5643" stop-color="#616161"/><stop offset="0.5750" stop-color="#4b4b4b"/><stop offset="0.5857" stop-color="#383838"/><stop offset="0.6000" stop-color="#242424"/><stop offset="0.6143" stop-color="#161616"/><stop offset="0.6286" stop-color="#0e0e0e"/><stop offset="0.6429" stop-color="#090909"/><stop offset="0.6643" stop-color="#050505"/><stop offset="0.6857" stop-color="#030303"/><stop offset="0.7143" stop-color="#020202"/><stop offset="0.7500" stop-color="#010101"/><stop offset="0.8000" stop-color="#010101"/><stop offset="0.8929" stop-color="#000000"/><stop offset="1.0000" stop-color="#000000"/></linearGradient><linearGradient id="g48" gradientUnits="userSpaceOnUse" x1="383.4" x2="523.4" y1="0" y2="0"><stop offset="0.0000" stop-color="#000000"/><stop offset="0.1071" stop-color="#000000"/><stop offset="0.2000" stop-color="#010101"/><stop offset="0.2500" stop-color="#010101"/><stop offset="0.2857" stop-color="#020202"/><stop offset="0.3143" stop-color="#030303"/><stop offset="0.3357" stop-color="#050505"/><stop offset="0.3571" stop-color="#080808"/><stop offset="0.3714" stop-color="#0d0d0d"/><stop offset="0.3857" stop-color="#161616"/><stop offset="0.4000" stop-color="#232323"/><stop offset="0.4143" stop-color="#383838"/><stop offset="0.4250" stop-color="#4c4c4c"/><stop offset="0.4357" stop-color="#646464"/><stop offset="0.4464" stop-color="#7e7e7e"/><stop offset="0.4571" stop-color="#999999"/><stop offset="0.4679" stop-color="#b3b3b3"/><stop offset="0.4786" stop-color="#c8c8c8"/><stop offset="0.4893" stop-color="#d5d5d5"/><stop offset="0.5000" stop-color="#dadada"/><stop offset="0.5107" stop-color="#d5d5d5"/><stop offset="0.5214" stop-color="#c8c8c8"/><stop offset="0.5321" stop-color="#b3b3b3"/><stop offset="0.5429" stop-color="#999999"/><stop offset="0.5536" stop-color="#7e7e7e"/><stop offset="0.5643" stop-color="#646464"/><stop offset="0.5750" stop-color="#4c4c4c"/><stop offset="0.5857" stop-color="#383838"/><stop offset="0.6000" stop-color="#232323"/><stop offset="0.6143" stop-color="#161616"/><stop offset="0.6286" stop-color="#0d0d0d"/><stop offset="0.6429" stop-color="#080808"/><stop offset="0.6643" stop-color="#050505"/><stop offset="0.6857" stop-color="#030303"/><stop offset="0.7143" stop-color="#020202"/><stop offset="0.7500" stop-color="#010101"/><stop offset="0.8000" stop-color="#010101"/><stop offset="0.8929" stop-color="#000000"/><stop offset="1.0000" stop-color="#000000"/></linearGradient><linearGradient id="g49" gradientUnits="userSpaceOnUse" x1="383.4" x2="523.4" y1="0" y2="0"><stop offset="0.0000" stop-color="#000000"/><stop offset="0.1071" stop-color="#000000"/><stop offset="0.2000" stop-color="#010101"/><stop offset="0.2500" stop-color="#010101"/><stop offset="0.2857" stop-color="#020202"/><stop offset="0.3143" stop-color="#030303"/><stop offset="0.3357" stop-color="#040404"/><stop offset="0.3571" stop-color="#080808"/><stop offset="0.3714" stop-color="#0c0c0c"/><stop offset="0.3857" stop-color="#141414"/><stop offset="0.4000" stop-color="#212121"/><stop offset="0.4143" stop-color="#363636"/><stop offset="0.4250" stop-color="#4a4a4a"/><stop offset="0.4357" stop-color="#636363"/><stop offset="0.4464" stop-color="#808080"/><stop offset="0.4571" stop-color="#9d9d9d"/><stop offset="0.4679" stop-color="#b9b9b9"/><stop offset="0.4786" stop-color="#d0d0d0"/><stop offset="0.4893" stop-color="#dfdfdf"/><stop offset="0.5000" stop-color="#e5e5e5"/><stop offset="0.5107" stop-color="#dfdfdf"/><stop offset="0.5214" stop-color="#d0d0d0"/><stop offset="0.5321" stop-color="#b9b9b9"/><stop offset="0.5429" stop-color="#9d9d9d"/><stop offset="0.5536" stop-color="#808080"/><stop offset="0.5643" stop-color="#636363"/><stop offset="0.5750" stop-color="#4a4a4a"/><stop offset="0.5857" stop-color="#363636"/><stop offset="0.6000" stop-color="#212121"/><stop offset="0.6143" stop-color="#141414"/><stop offset="0.6286" stop-color="#0c0c0c"/><stop offset="0.6429" stop-color="#080808"/><stop offset="0.6643" stop-color="#040404"/><stop offset="0.6857" stop-color="#030303"/><stop offset="0.7143" stop-color="#020202"/><stop offset="0.7500" stop-color="#010101"/><stop offset="0.8000" stop-color="#010101"/><stop offset="0.8929" stop-color="#000000"/><stop offset="1.0000" stop-color="#000000"/></linearGradient><linearGradient id="g50" gradientUnits="userSpaceOnUse" x1="383.4" x2="523.4" y1="0" y2="0"><stop offset="0.0000" stop-color="#000000"/><stop offset="0.1071" stop-color="#000000"/><stop offset="0.2000" stop-color="#010101"/><stop offset="0.2500" stop-color="#010101"/><stop offset="0.2857" stop-color="#020202"/><stop offset="0.3143" stop-color="#030303"/><stop offset="0.3357" stop-color="#040404"/><stop offset="0.3571" stop-color="#070707"/><stop offset="0.3714" stop-color="#0b0b0b"/><stop offset="0.3857" stop-color="#121212"/><stop offset="0.4000" stop-color="#1f1f1f"/><stop offset="0.4143" stop-color="#343434"/><stop offset="0.4250" stop-color="#4b4b4b"/><stop offset="0.4357" stop-color="#686868"/><stop offset="0.4464" stop-color="#8a8a8a"/><stop offset="0.4571" stop-color="#afafaf"/><stop offset="0.4679" stop-color="#d3d3d3"/><stop offset="0.4786" stop-color="#f2f2f2"/><stop offset="0.4893" stop-color="#ffffff"/><stop offset="0.5000" stop-color="#ffffff"/><stop offset="0.5107" stop-color="#ffffff"/><stop offset="0.5214" stop-color="#f2f2f2"/><stop offset="0.5321" stop-color="#d3d3d3"/><stop offset="0.5429" stop-color="#afafaf"/><stop offset="0.5536" stop-color="#8a8a8a"/><stop offset="0.5643" stop-color="#686868"/><stop offset="0.5750" stop-color="#4b4b4b"/><stop offset="0.5857" stop-color="#343434"/><stop offset="0.6000" stop-color="#1f1f1f"/><stop offset="0.6143" stop-color="#121212"/><stop offset="0.6286" stop-color="#0b0b0b"/><stop offset="0.6429" stop-color="#070707"/><stop offset="0.6643" stop-color="#040404"/><stop offset="0.6857" stop-color="#030303"/><stop offset="0.7143" stop-color="#020202"/><stop offset="0.7500" stop-color="#010101"/><stop offset="0.8000" stop-color="#010101"/><stop offset="0.8929" stop-color="#000000"/><stop offset="1.0000" stop-color="#000000"/></linearGradient><linearGradient id="g51" gradientUnits="userSpaceOnUse" x1="383.4" x2="523.4" y1="0" y2="0"><stop offset="0.0000" stop-color="#000000"/><stop offset="0.1071" stop-color="#000000"/><stop offset="0.2000" stop-color="#010101"/><stop offset="0.2500" stop-color="#020202"/><stop offset="0.2857" stop-color="#030303"/><stop offset="0.3143" stop-color="#040404"/><stop offset="0.3357" stop-color="#050505"/><stop offset="0.3571" stop-color="#070707"/><stop offset="0.3714" stop-color="#0a0a0a"/><stop offset="0.3857" stop-color="#101010"/><stop offset="0.4000" stop-color="#1c1c1c"/><stop offset="0.4143" stop-color="#313131"/><stop offset="0.4250" stop-color="#4b4b4b"/><stop offset="0.4357" stop-color="#6f6f6f"/><stop offset="0.4464" stop-color="#9d9d9d"/><stop offset="0.4571" stop-color="#d1d1d1"/><stop offset="0.4679" stop-color="#ffffff"/><stop offset="0.4786" stop-color="#ffffff"/><stop offset="0.4893" stop-color="#ffffff"/><stop offset="0.5000" stop-color="#ffffff"/><stop offset="0.5107" stop-color="#ffffff"/><stop offset="0.5214" stop-color="#ffffff"/><stop offset="0.5321" stop-color="#ffffff"/><stop offset="0.5429" stop-color="#d1d1d1"/><stop offset="0.5536" stop-color="#9d9d9d"/><stop offset="0.5643" stop-color="#6f6f6f"/><stop offset="0.5750" stop-color="#4b4b4b"/><stop offset="0.5857" stop-color="#313131"/><stop offset="0.6000" stop-color="#1c1c1c"/><stop offset="0.6143" stop-color="#101010"/><stop offset="0.6286" stop-color="#0a0a0a"/><stop offset="0.6429" stop-color="#070707"/><stop offset="0.6643" stop-color="#050505"/><stop offset="0.6857" stop-color="#040404"/><stop offset="0.7143" stop-color="#030303"/><stop offset="0.7500" stop-color="#020202"/><stop offset="0.8000" stop-color="#010101"/><stop offset="0.8929" stop-color="#000000"/><stop offset="1.0000" stop-color="#000000"/></linearGradient><linearGradient id="g52" gradientUnits="userSpaceOnUse" x1="383.4" x2="523.4" y1="0" y2="0"><stop offset="0.0000" stop-color="#000000"/><stop offset="0.1071" stop-color="#010101"/><stop offset="0.2000" stop-color="#010101"/><stop offset="0.2500" stop-color="#020202"/><stop offset="0.2857" stop-color="#030303"/><stop offset="0.3143" stop-color="#040404"/><stop offset="0.3357" stop-color="#060606"/><stop offset="0.3571" stop-color="#080808"/><stop offset="0.3714" stop-color="#0a0a0a"/><stop offset="0.3857" stop-color="#0f0f0f"/><stop offset="0.4000" stop-color="#191919"/><stop offset="0.4143" stop-color="#2d2d2d"/><stop offset="0.4250" stop-color="#484848"/><stop offset="0.4357" stop-color="#707070"/><stop offset="0.4464" stop-color="#a6a6a6"/><stop offset="0.4571" stop-color="#e7e7e7"/><stop offset="0.4679" stop-color="#ffffff"/><stop offset="0.4786" stop-color="#ffffff"/><stop offset="0.4893" stop-color="#ffffff"/><stop offset="0.5000" stop-color="#ffffff"/><stop offset="0.5107" stop-color="#ffffff"/><stop offset="0.5214" stop-color="#ffffff"/><stop offset="0.5321" stop-color="#ffffff"/><stop offset="0.5429" stop-color="#e7e7e7"/><stop offset="0.5536" stop-color="#a6a6a6"/><stop offset="0.5643" stop-color="#707070"/><stop offset="0.5750" stop-color="#484848"/><stop offset="0.5857" stop-color="#2d2d2d"/><stop offset="0.6000" stop-color="#191919"/><stop offset="0.6143" stop-color="#0f0f0f"/><stop offset="0.6286" stop-color="#0a0a0a"/><stop offset="0.6429" stop-color="#080808"/><stop offset="0.6643" stop-color="#060606"/><stop offset="0.6857" stop-color="#040404"/><stop offset="0.7143" stop-color="#030303"/><stop offset="0.7500" stop-color="#020202"/><stop offset="0.8000" stop-color="#010101"/><stop offset="0.8929" stop-color="#010101"/><stop offset="1.0000" stop-color="#000000"/></linearGradient></defs>
<path d="M254.8 1396.0V1599.7M354.0 1396.0V1599.7M453.2 1396.0V1599.7M552.5 1396.0V1599.7M651.8 1396.0V1599.7M155.5 1462.3H751.0" stroke="#e4e4e4" stroke-width="1.7" fill="none"/>
<path d="M254.8 1187.0V1396.0M354.0 1187.0V1396.0M552.5 1187.0V1396.0M651.8 1187.0V1396.0M155.0 1255.7H430M478 1255.7H750.6M155.0 1324.6H430M478 1324.6H750.6" stroke="#0d0d0d" stroke-width="1.2" fill="none"/>
<line x1="155.5" y1="1530.9" x2="751.0" y2="1530.9" stroke="#525252" stroke-width="1.6"/>
<path d="M254.8 1599.7v-6M354.0 1599.7v-6M453.2 1599.7v-6M552.5 1599.7v-6M651.8 1599.7v-6M155.5 1462.3h6M751.0 1462.3h-6M155.5 1530.9h6M751.0 1530.9h-6" stroke="#858585" stroke-width="1.3" fill="none"/>
<path d="M155.5 1396.0V1599.7H751.0V1396.0" fill="none" stroke="#858585" stroke-width="2"/>
<path d="M155.0 1255.7h6M155.0 1324.6h6M155.0 1393.2h6" stroke="#2a2a2a" stroke-width="1.3" fill="none"/>
<path d="M418.1 1187L439.6 1396L453.4 1531M488.9 1187L467.8 1396L453.4 1531M453.4 1187V1538.3" fill="none" stroke="#ff3b3b" stroke-width="1" stroke-opacity="0.85"/>
<g fill="#ffe800" stroke="#f0a000" stroke-width="0.5"><circle cx="418.6" cy="1193.4" r="2.5"/><circle cx="488.4" cy="1193.4" r="2.5"/><circle cx="419.3" cy="1200.3" r="2.5"/><circle cx="487.6" cy="1200.3" r="2.5"/><circle cx="420.0" cy="1207.3" r="2.5"/><circle cx="486.9" cy="1207.3" r="2.5"/><circle cx="420.7" cy="1214.2" r="2.5"/><circle cx="486.2" cy="1214.2" r="2.5"/><circle cx="421.4" cy="1221.1" r="2.5"/><circle cx="485.5" cy="1221.1" r="2.5"/><circle cx="422.0" cy="1228.0" r="2.5"/><circle cx="484.7" cy="1228.0" r="2.5"/><circle cx="422.7" cy="1234.9" r="2.5"/><circle cx="484.0" cy="1234.9" r="2.5"/><circle cx="423.4" cy="1241.9" r="2.5"/><circle cx="483.3" cy="1241.9" r="2.5"/><circle cx="424.1" cy="1248.8" r="2.5"/><circle cx="482.6" cy="1248.8" r="2.5"/><circle cx="424.8" cy="1255.7" r="2.5"/><circle cx="481.8" cy="1255.7" r="2.5"/><circle cx="425.5" cy="1262.6" r="2.5"/><circle cx="481.1" cy="1262.6" r="2.5"/><circle cx="426.1" cy="1269.5" r="2.5"/><circle cx="480.4" cy="1269.5" r="2.5"/><circle cx="426.8" cy="1276.5" r="2.5"/><circle cx="479.7" cy="1276.5" r="2.5"/><circle cx="427.5" cy="1283.4" r="2.5"/><circle cx="478.9" cy="1283.4" r="2.5"/><circle cx="428.2" cy="1290.3" r="2.5"/><circle cx="478.2" cy="1290.3" r="2.5"/><circle cx="428.9" cy="1297.2" r="2.5"/><circle cx="477.5" cy="1297.2" r="2.5"/><circle cx="429.5" cy="1304.1" r="2.5"/><circle cx="476.8" cy="1304.1" r="2.5"/><circle cx="430.2" cy="1311.1" r="2.5"/><circle cx="476.0" cy="1311.1" r="2.5"/><circle cx="430.9" cy="1318.0" r="2.5"/><circle cx="475.3" cy="1318.0" r="2.5"/><circle cx="431.6" cy="1324.9" r="2.5"/><circle cx="474.6" cy="1324.9" r="2.5"/><circle cx="432.3" cy="1331.8" r="2.5"/><circle cx="473.9" cy="1331.8" r="2.5"/><circle cx="432.9" cy="1338.7" r="2.5"/><circle cx="473.2" cy="1338.7" r="2.5"/><circle cx="433.6" cy="1345.7" r="2.5"/><circle cx="472.4" cy="1345.7" r="2.5"/><circle cx="434.3" cy="1352.6" r="2.5"/><circle cx="471.7" cy="1352.6" r="2.5"/><circle cx="435.0" cy="1359.5" r="2.5"/><circle cx="471.0" cy="1359.5" r="2.5"/><circle cx="435.7" cy="1366.4" r="2.5"/><circle cx="470.3" cy="1366.4" r="2.5"/><circle cx="436.4" cy="1373.3" r="2.5"/><circle cx="469.5" cy="1373.3" r="2.5"/><circle cx="437.0" cy="1380.3" r="2.5"/><circle cx="468.8" cy="1380.3" r="2.5"/><circle cx="437.7" cy="1387.2" r="2.5"/><circle cx="468.1" cy="1387.2" r="2.5"/></g>
<g fill="#2ccdd6"><circle cx="453.6" cy="1186.5" r="2.5"/><circle cx="453.6" cy="1193.4" r="2.5"/><circle cx="453.6" cy="1200.3" r="2.5"/><circle cx="453.6" cy="1207.3" r="2.5"/><circle cx="453.6" cy="1214.2" r="2.5"/><circle cx="453.6" cy="1221.1" r="2.5"/><circle cx="453.6" cy="1228.0" r="2.5"/><circle cx="453.6" cy="1234.9" r="2.5"/><circle cx="453.6" cy="1241.9" r="2.5"/><circle cx="453.6" cy="1248.8" r="2.5"/><circle cx="453.6" cy="1255.7" r="2.5"/><circle cx="453.6" cy="1262.6" r="2.5"/><circle cx="453.6" cy="1269.5" r="2.5"/><circle cx="453.6" cy="1276.5" r="2.5"/><circle cx="453.6" cy="1283.4" r="2.5"/><circle cx="453.6" cy="1290.3" r="2.5"/><circle cx="453.6" cy="1297.2" r="2.5"/><circle cx="453.6" cy="1304.1" r="2.5"/><circle cx="453.6" cy="1311.1" r="2.5"/><circle cx="453.6" cy="1318.0" r="2.5"/><circle cx="453.6" cy="1324.9" r="2.5"/><circle cx="453.6" cy="1331.8" r="2.5"/><circle cx="453.6" cy="1338.7" r="2.5"/><circle cx="453.6" cy="1345.7" r="2.5"/><circle cx="453.6" cy="1352.6" r="2.5"/><circle cx="453.6" cy="1359.5" r="2.5"/><circle cx="453.6" cy="1366.4" r="2.5"/><circle cx="453.6" cy="1373.3" r="2.5"/><circle cx="453.6" cy="1380.3" r="2.5"/><circle cx="453.6" cy="1387.2" r="2.5"/><circle cx="453.6" cy="1394.1" r="2.5"/></g>
<path d="M418.1 1187L439.6 1396M488.9 1187L467.8 1396M453.4 1187V1396" fill="none" stroke="#d81010" stroke-width="0.8" stroke-opacity="0.42"/>
<text transform="translate(412.5,1291.8) rotate(-95.5) scale(1.0,1)" font-family='"Liberation Sans", sans-serif' font-weight="bold" font-size="19.8" fill="#ff1010">R<tspan font-size="12.3" dy="-7.1">2</tspan><tspan dy="7.1">=0.99</tspan></text>
<text transform="translate(448.6,1257.7) rotate(-90) scale(1.0,1)" font-family='"Liberation Sans", sans-serif' font-weight="bold" font-size="19.5" fill="#ff1010">R<tspan font-size="12.1" dy="-7.0">2</tspan><tspan dy="7.0">=1</tspan></text>
<text transform="translate(508.3,1293.5) rotate(-84) scale(1.0,1)" font-family='"Liberation Sans", sans-serif' font-weight="bold" font-size="19.5" fill="#ff1010">R<tspan font-size="12.1" dy="-7.0">2</tspan><tspan dy="7.0">=0.99</tspan></text>
<text transform="translate(3.17,1210.00) scale(0.9053,1)" font-family='"Liberation Sans", sans-serif' font-weight="bold" font-style="normal" font-size="31.52" fill="#000">(c)</text>
<text x="145.20" y="1197.10" text-anchor="end" font-family='"Liberation Serif", serif' font-style="italic" font-size="31.2" fill="#454545">3</text>
<text x="145.20" y="1266.30" text-anchor="end" font-family='"Liberation Serif", serif' font-style="italic" font-size="31.2" fill="#454545">2</text>
<text x="145.20" y="1335.20" text-anchor="end" font-family='"Liberation Serif", serif' font-style="italic" font-size="31.2" fill="#454545">1</text>
<text x="146.00" y="1404.30" text-anchor="end" font-family='"Liberation Serif", serif' font-style="italic" font-size="32.3" fill="#454545">0</text>
<text x="146.00" y="1473.20" text-anchor="end" font-family='"Liberation Serif", serif' font-style="italic" font-size="32.3" fill="#454545">-1</text>
<text x="146.00" y="1541.80" text-anchor="end" font-family='"Liberation Serif", serif' font-style="italic" font-size="32.3" fill="#454545">-2</text>
<text x="146.00" y="1610.60" text-anchor="end" font-family='"Liberation Serif", serif' font-style="italic" font-size="32.3" fill="#454545">-3</text>
<text transform="translate(94.60,1365.01) rotate(-90) scale(0.9025,1)" font-family='"Liberation Sans", sans-serif' font-weight="normal" font-style="normal" font-size="33.35" fill="#000">Level [km]</text>
<text transform="translate(94.60,1601.70) rotate(-90) scale(0.9001,1)" font-family='"Liberation Sans", sans-serif' font-weight="normal" font-style="normal" font-size="33.35" fill="#000">Depth [km]</text>
<text x="155.90" y="1638.00" text-anchor="middle" font-family='"Liberation Serif", serif' font-style="italic" font-size="32.3" fill="#454545">0</text>
<text x="255.15" y="1638.00" text-anchor="middle" font-family='"Liberation Serif", serif' font-style="italic" font-size="32.3" fill="#454545">20</text>
<text x="354.40" y="1638.00" text-anchor="middle" font-family='"Liberation Serif", serif' font-style="italic" font-size="32.3" fill="#454545">40</text>
<text x="453.65" y="1638.00" text-anchor="middle" font-family='"Liberation Serif", serif' font-style="italic" font-size="32.3" fill="#454545">60</text>
<text x="552.90" y="1638.00" text-anchor="middle" font-family='"Liberation Serif", serif' font-style="italic" font-size="32.3" fill="#454545">80</text>
<text x="652.15" y="1638.00" text-anchor="middle" font-family='"Liberation Serif", serif' font-style="italic" font-size="32.3" fill="#454545">100</text>
<text x="751.40" y="1638.00" text-anchor="middle" font-family='"Liberation Serif", serif' font-style="italic" font-size="32.3" fill="#454545">120</text>
<text transform="translate(365.28,1683.20) scale(1.1058,1)" font-family='"Liberation Sans", sans-serif' font-weight="normal" font-style="normal" font-size="27.34" fill="#000">Distance [km]</text>
<path d="M191.2 1747.8V2023.2M300.8 1747.8V2023.2M410.4 1747.8V2023.2M520.0 1747.8V2023.2M629.6 1747.8V2023.2M170.2 1885.4H738.4" stroke="#dedede" stroke-width="1.8" fill="none"/>
<path d="M191.2 1747.8v5.5M191.2 2023.2v-5.5M300.8 1747.8v5.5M300.8 2023.2v-5.5M410.4 1747.8v5.5M410.4 2023.2v-5.5M520.0 1747.8v5.5M520.0 2023.2v-5.5M629.6 1747.8v5.5M629.6 2023.2v-5.5M170.2 1885.4h5.5M738.4 1885.4h-5.5" stroke="#555" stroke-width="1.3" fill="none"/>
<rect x="170.2" y="1747.8" width="568.2" height="275.4000000000001" fill="none" stroke="#848484" stroke-width="3"/>
<line x1="303.9" y1="1885.8" x2="615.0" y2="1885.8" stroke="#0000ff" stroke-width="4.2"/>
<path d="M293.8 1885.8h20.2M303.9 1875.7v20.2M296.1 1878.0l15.6 15.6M296.1 1893.6l15.6 -15.6M569.7 1885.8h20.2M579.8 1875.7v20.2M572.0 1878.0l15.6 15.6M572.0 1893.6l15.6 -15.6M548.0 1885.8h20.2M558.1 1875.7v20.2M550.3 1878.0l15.6 15.6M550.3 1893.6l15.6 -15.6M528.2 1885.8h20.2M538.3 1875.7v20.2M530.5 1878.0l15.6 15.6M530.5 1893.6l15.6 -15.6M509.9 1885.8h20.2M520.0 1875.7v20.2M512.2 1878.0l15.6 15.6M512.2 1893.6l15.6 -15.6M493.0 1885.8h20.2M503.1 1875.7v20.2M495.3 1878.0l15.6 15.6M495.3 1893.6l15.6 -15.6M477.4 1885.8h20.2M487.5 1875.7v20.2M479.7 1878.0l15.6 15.6M479.7 1893.6l15.6 -15.6M462.9 1885.8h20.2M473.0 1875.7v20.2M465.2 1878.0l15.6 15.6M465.2 1893.6l15.6 -15.6M449.4 1885.8h20.2M459.5 1875.7v20.2M451.7 1878.0l15.6 15.6M451.7 1893.6l15.6 -15.6M436.8 1885.8h20.2M446.9 1875.7v20.2M439.1 1878.0l15.6 15.6M439.1 1893.6l15.6 -15.6M425.0 1885.8h20.2M435.1 1875.7v20.2M427.3 1878.0l15.6 15.6M427.3 1893.6l15.6 -15.6M414.0 1885.8h20.2M424.1 1875.7v20.2M416.3 1878.0l15.6 15.6M416.3 1893.6l15.6 -15.6M403.6 1885.8h20.2M413.7 1875.7v20.2M405.9 1878.0l15.6 15.6M405.9 1893.6l15.6 -15.6M393.9 1885.8h20.2M404.0 1875.7v20.2M396.2 1878.0l15.6 15.6M396.2 1893.6l15.6 -15.6M384.6 1885.8h20.2M394.7 1875.7v20.2M386.9 1878.0l15.6 15.6M386.9 1893.6l15.6 -15.6M375.9 1885.8h20.2M386.0 1875.7v20.2M378.2 1878.0l15.6 15.6M378.2 1893.6l15.6 -15.6M367.7 1885.8h20.2M377.8 1875.7v20.2M370.0 1878.0l15.6 15.6M370.0 1893.6l15.6 -15.6M359.9 1885.8h20.2M370.0 1875.7v20.2M362.2 1878.0l15.6 15.6M362.2 1893.6l15.6 -15.6M352.5 1885.8h20.2M362.6 1875.7v20.2M354.8 1878.0l15.6 15.6M354.8 1893.6l15.6 -15.6M345.5 1885.8h20.2M355.6 1875.7v20.2M347.8 1878.0l15.6 15.6M347.8 1893.6l15.6 -15.6M338.8 1885.8h20.2M348.9 1875.7v20.2M341.1 1878.0l15.6 15.6M341.1 1893.6l15.6 -15.6M332.5 1885.8h20.2M342.6 1875.7v20.2M334.8 1878.0l15.6 15.6M334.8 1893.6l15.6 -15.6M326.4 1885.8h20.2M336.5 1875.7v20.2M328.7 1878.0l15.6 15.6M328.7 1893.6l15.6 -15.6M320.6 1885.8h20.2M330.7 1875.7v20.2M322.9 1878.0l15.6 15.6M322.9 1893.6l15.6 -15.6M315.1 1885.8h20.2M325.2 1875.7v20.2M317.4 1878.0l15.6 15.6M317.4 1893.6l15.6 -15.6M309.8 1885.8h20.2M319.9 1875.7v20.2M312.1 1878.0l15.6 15.6M312.1 1893.6l15.6 -15.6M304.7 1885.8h20.2M314.8 1875.7v20.2M307.0 1878.0l15.6 15.6M307.0 1893.6l15.6 -15.6M299.8 1885.8h20.2M309.9 1875.7v20.2M302.1 1878.0l15.6 15.6M302.1 1893.6l15.6 -15.6M295.2 1885.8h20.2M305.3 1875.7v20.2M297.5 1878.0l15.6 15.6M297.5 1893.6l15.6 -15.6M595.4 1885.8h20.2M605.5 1875.7v20.2M597.7 1878.0l15.6 15.6M597.7 1893.6l15.6 -15.6M599.9 1885.8h20.2M610.0 1875.7v20.2M602.2 1878.0l15.6 15.6M602.2 1893.6l15.6 -15.6M604.9 1885.8h20.2M615.0 1875.7v20.2M607.2 1878.0l15.6 15.6M607.2 1893.6l15.6 -15.6" stroke="#0000ff" stroke-width="4.6" fill="none"/>
<text transform="translate(3.27,1713.90) scale(0.9707,1)" font-family='"Liberation Sans", sans-serif' font-weight="bold" font-style="normal" font-size="31.52" fill="#000">(d)</text>
<text x="157.20" y="1761.80" text-anchor="end" font-family='"Liberation Serif", serif' font-style="italic" font-size="44.2" fill="#303030">-1.5</text>
<text x="157.20" y="1899.60" text-anchor="end" font-family='"Liberation Serif", serif' font-style="italic" font-size="44.2" fill="#303030">-2</text>
<text x="157.20" y="2038.50" text-anchor="end" font-family='"Liberation Serif", serif' font-style="italic" font-size="44.2" fill="#303030">-2.5</text>
<text x="191.20" y="2074.50" text-anchor="middle" font-family='"Liberation Serif", serif' font-style="italic" font-size="44.2" fill="#303030">0.1</text>
<text x="300.80" y="2074.50" text-anchor="middle" font-family='"Liberation Serif", serif' font-style="italic" font-size="44.2" fill="#303030">0.2</text>
<text x="410.40" y="2074.50" text-anchor="middle" font-family='"Liberation Serif", serif' font-style="italic" font-size="44.2" fill="#303030">0.3</text>
<text x="520.00" y="2074.50" text-anchor="middle" font-family='"Liberation Serif", serif' font-style="italic" font-size="44.2" fill="#303030">0.4</text>
<text x="629.60" y="2074.50" text-anchor="middle" font-family='"Liberation Serif", serif' font-style="italic" font-size="44.2" fill="#303030">0.5</text>
<text transform="translate(50.30,1845.63) rotate(-90) scale(1.0715,1)" font-family='"Liberation Sans", sans-serif' font-weight="normal" font-style="normal" font-size="27.74" fill="#000">log(z)</text>
<text transform="translate(50.30,1964.84) rotate(-90) scale(1.0740,1)" font-family='"Liberation Sans", sans-serif' font-weight="normal" font-style="normal" font-size="27.74" fill="#000">log(w)/</text>
<path transform="translate(50.40,1866.00) rotate(-90) scale(23.760,27.000)" d="M0.085 -0.625C0.15 -0.72 0.30 -0.75 0.385 -0.65C0.455 -0.56 0.47 -0.40 0.46 -0.25C0.45 -0.08 0.36 0.01 0.25 0.01C0.125 0.01 0.045 -0.09 0.045 -0.225C0.045 -0.36 0.13 -0.465 0.25 -0.465C0.35 -0.465 0.43 -0.40 0.458 -0.30" fill="none" stroke="#000" stroke-width="0.082" stroke-linecap="butt" stroke-linejoin="round"/>
<path transform="translate(50.40,1986.00) rotate(-90) scale(23.760,27.000)" d="M0.085 -0.625C0.15 -0.72 0.30 -0.75 0.385 -0.65C0.455 -0.56 0.47 -0.40 0.46 -0.25C0.45 -0.08 0.36 0.01 0.25 0.01C0.125 0.01 0.045 -0.09 0.045 -0.225C0.045 -0.36 0.13 -0.465 0.25 -0.465C0.35 -0.465 0.43 -0.40 0.458 -0.30" fill="none" stroke="#000" stroke-width="0.082" stroke-linecap="butt" stroke-linejoin="round"/>
<text transform="translate(410.33,2131.80) scale(1.0709,1)" font-family='"Liberation Sans", sans-serif' font-weight="normal" font-style="normal" font-size="26.83" fill="#000">log(z)/</text>
<text transform="translate(525.45,2131.80) scale(1.0729,1)" font-family='"Liberation Sans", sans-serif' font-weight="normal" font-style="normal" font-size="26.83" fill="#000">z</text>
<path transform="translate(389.30,2131.90) rotate(0) scale(25.774,26.300)" d="M0.085 -0.625C0.15 -0.72 0.30 -0.75 0.385 -0.65C0.455 -0.56 0.47 -0.40 0.46 -0.25C0.45 -0.08 0.36 0.01 0.25 0.01C0.125 0.01 0.045 -0.09 0.045 -0.225C0.045 -0.36 0.13 -0.465 0.25 -0.465C0.35 -0.465 0.43 -0.40 0.458 -0.30" fill="none" stroke="#000" stroke-width="0.082" stroke-linecap="butt" stroke-linejoin="round"/>
<path transform="translate(503.50,2131.90) rotate(0) scale(25.774,26.300)" d="M0.085 -0.625C0.15 -0.72 0.30 -0.75 0.385 -0.65C0.455 -0.56 0.47 -0.40 0.46 -0.25C0.45 -0.08 0.36 0.01 0.25 0.01C0.125 0.01 0.045 -0.09 0.045 -0.225C0.045 -0.36 0.13 -0.465 0.25 -0.465C0.35 -0.465 0.43 -0.40 0.458 -0.30" fill="none" stroke="#000" stroke-width="0.082" stroke-linecap="butt" stroke-linejoin="round"/>
</g>
</svg>
</body></html>
